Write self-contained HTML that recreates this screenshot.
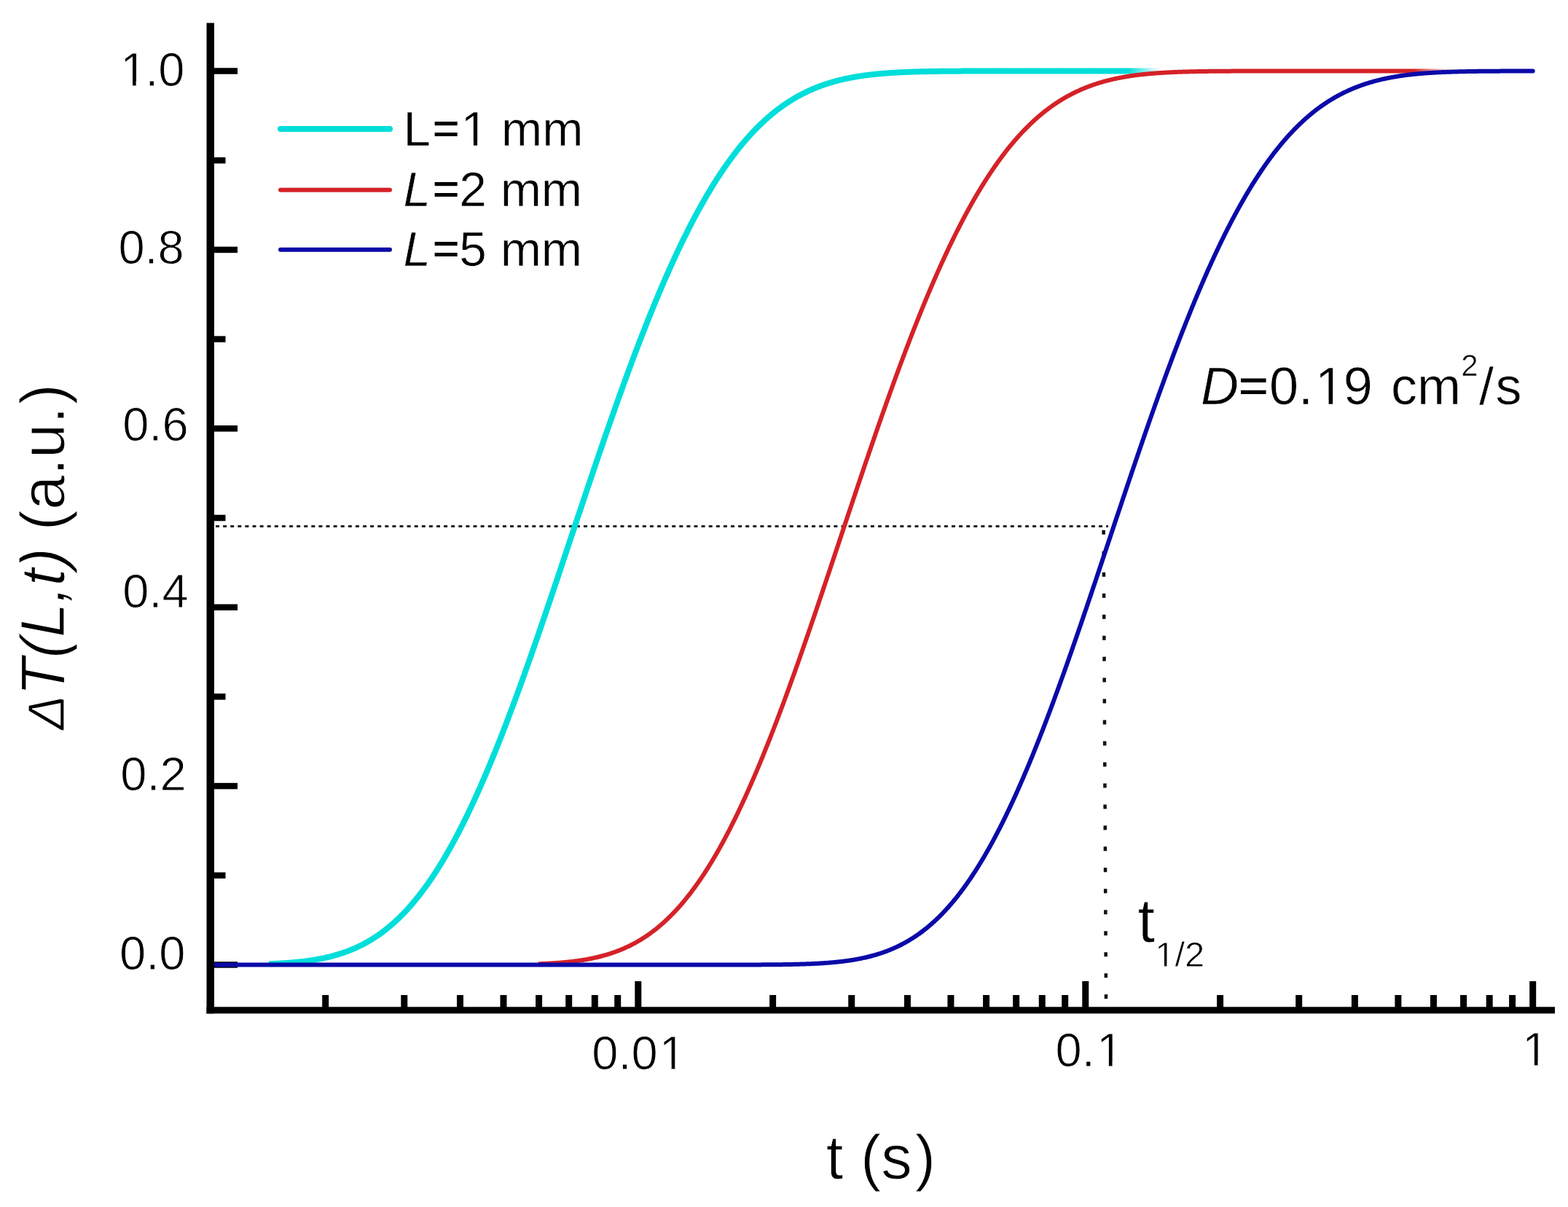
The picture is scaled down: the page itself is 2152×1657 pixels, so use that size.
<!DOCTYPE html>
<html><head><meta charset="utf-8"><style>
html,body{margin:0;padding:0;background:#fff;width:2152px;height:1657px;overflow:hidden}
svg{display:block}
text{font-family:"Liberation Sans",Arial,sans-serif;fill:#000}
</style></head><body>
<svg width="2152" height="1657" viewBox="0 0 2152 1657">
<rect width="2152" height="1657" fill="#fff"/>
<defs><clipPath id="c0" clipPathUnits="userSpaceOnUse"><path clip-rule="evenodd" d="M0,0H2152V1657H0ZM167.99,111.66H182.03V121.70H167.99ZM186.67,111.66H200.37V121.70H186.67Z"/></clipPath><clipPath id="c6" clipPathUnits="userSpaceOnUse"><path clip-rule="evenodd" d="M0,0H2152V1657H0ZM907.65,1461.66H921.69V1471.70H907.65ZM926.33,1461.66H940.03V1471.70H926.33Z"/></clipPath><clipPath id="c7" clipPathUnits="userSpaceOnUse"><path clip-rule="evenodd" d="M0,0H2152V1657H0ZM1507.81,1458.16H1521.85V1468.20H1507.81ZM1526.49,1458.16H1540.18V1468.20H1526.49Z"/></clipPath><clipPath id="c8" clipPathUnits="userSpaceOnUse"><path clip-rule="evenodd" d="M0,0H2152V1657H0ZM2091.86,1456.96H2105.90V1467.00H2091.86ZM2110.54,1456.96H2124.24V1467.00H2110.54Z"/></clipPath><clipPath id="c9" clipPathUnits="userSpaceOnUse"><path clip-rule="evenodd" d="M0,0H2152V1657H0ZM635.51,193.86H649.92V203.80H635.51ZM655.09,193.86H669.14V203.80H655.09Z"/></clipPath><clipPath id="c12" clipPathUnits="userSpaceOnUse"><path clip-rule="evenodd" d="M0,0H2152V1657H0ZM1808.25,548.40H1823.59V558.70H1808.25ZM1829.16,548.40H1844.11V558.70H1829.16Z"/></clipPath><clipPath id="c13" clipPathUnits="userSpaceOnUse"><path clip-rule="evenodd" d="M0,0H2152V1657H0ZM1587.28,1322.62H1597.95V1331.30H1587.28ZM1601.29,1322.62H1611.70V1331.30H1601.29Z"/></clipPath></defs>
<defs><linearGradient id="g0" gradientUnits="userSpaceOnUse" x1="1548" y1="0" x2="1592" y2="0"><stop offset="0" stop-color="#00DEDA"/><stop offset="1" stop-color="#00DEDA" stop-opacity="0"/></linearGradient><linearGradient id="g1" gradientUnits="userSpaceOnUse" x1="1940" y1="0" x2="1992" y2="0"><stop offset="0" stop-color="#D42228"/><stop offset="1" stop-color="#D42228" stop-opacity="0"/></linearGradient></defs>
<rect x="294.0" y="1320.25" width="32.00" height="8.5" fill="#000"/>
<rect x="294.0" y="1074.85" width="32.00" height="8.5" fill="#000"/>
<rect x="294.0" y="829.45" width="32.00" height="8.5" fill="#000"/>
<rect x="294.0" y="584.05" width="32.00" height="8.5" fill="#000"/>
<rect x="294.0" y="338.65" width="32.00" height="8.5" fill="#000"/>
<rect x="294.0" y="93.25" width="32.00" height="8.5" fill="#000"/>
<rect x="294.0" y="1197.55" width="15.50" height="8.5" fill="#000"/>
<rect x="294.0" y="952.15" width="15.50" height="8.5" fill="#000"/>
<rect x="294.0" y="706.75" width="15.50" height="8.5" fill="#000"/>
<rect x="294.0" y="461.35" width="15.50" height="8.5" fill="#000"/>
<rect x="294.0" y="215.95" width="15.50" height="8.5" fill="#000"/>
<rect x="871.30" y="1347.0" width="9.0" height="36.30" fill="#000"/>
<rect x="1485.25" y="1347.0" width="9.0" height="36.30" fill="#000"/>
<rect x="2099.20" y="1347.0" width="9.0" height="36.30" fill="#000"/>
<rect x="442.17" y="1366.0" width="9.0" height="17.30" fill="#000"/>
<rect x="550.28" y="1366.0" width="9.0" height="17.30" fill="#000"/>
<rect x="626.98" y="1366.0" width="9.0" height="17.30" fill="#000"/>
<rect x="686.48" y="1366.0" width="9.0" height="17.30" fill="#000"/>
<rect x="735.10" y="1366.0" width="9.0" height="17.30" fill="#000"/>
<rect x="776.20" y="1366.0" width="9.0" height="17.30" fill="#000"/>
<rect x="811.80" y="1366.0" width="9.0" height="17.30" fill="#000"/>
<rect x="843.21" y="1366.0" width="9.0" height="17.30" fill="#000"/>
<rect x="1056.12" y="1366.0" width="9.0" height="17.30" fill="#000"/>
<rect x="1164.23" y="1366.0" width="9.0" height="17.30" fill="#000"/>
<rect x="1240.93" y="1366.0" width="9.0" height="17.30" fill="#000"/>
<rect x="1300.43" y="1366.0" width="9.0" height="17.30" fill="#000"/>
<rect x="1349.05" y="1366.0" width="9.0" height="17.30" fill="#000"/>
<rect x="1390.15" y="1366.0" width="9.0" height="17.30" fill="#000"/>
<rect x="1425.75" y="1366.0" width="9.0" height="17.30" fill="#000"/>
<rect x="1457.16" y="1366.0" width="9.0" height="17.30" fill="#000"/>
<rect x="1670.07" y="1366.0" width="9.0" height="17.30" fill="#000"/>
<rect x="1778.18" y="1366.0" width="9.0" height="17.30" fill="#000"/>
<rect x="1854.88" y="1366.0" width="9.0" height="17.30" fill="#000"/>
<rect x="1914.38" y="1366.0" width="9.0" height="17.30" fill="#000"/>
<rect x="1963.00" y="1366.0" width="9.0" height="17.30" fill="#000"/>
<rect x="2004.10" y="1366.0" width="9.0" height="17.30" fill="#000"/>
<rect x="2039.70" y="1366.0" width="9.0" height="17.30" fill="#000"/>
<rect x="2071.11" y="1366.0" width="9.0" height="17.30" fill="#000"/>
<line x1="296" y1="722.4" x2="1521" y2="722.4" stroke="#222" stroke-width="3" stroke-dasharray="5 5.1"/>
<line x1="1514.6" y1="727.8" x2="1518" y2="1380" stroke="#111" stroke-width="4.5" stroke-dasharray="6 22.97"/>
<polyline points="369.0,1323.29 370.0,1323.25 371.0,1323.21 372.0,1323.17 373.0,1323.13 374.0,1323.09 375.0,1323.04 376.0,1323.00 377.0,1322.95 378.0,1322.91 379.0,1322.86 380.0,1322.81 381.0,1322.76 382.0,1322.70 383.0,1322.65 384.0,1322.59 385.0,1322.54 386.0,1322.48 387.0,1322.42 388.0,1322.36 389.0,1322.30 390.0,1322.23 391.0,1322.17 392.0,1322.10 393.0,1322.03 394.0,1321.96 395.0,1321.89 396.0,1321.81 397.0,1321.73 398.0,1321.66 399.0,1321.58 400.0,1321.49 401.0,1321.41 402.0,1321.32 403.0,1321.24 404.0,1321.15 405.0,1321.05 406.0,1320.96 407.0,1320.86 408.0,1320.76 409.0,1320.66 410.0,1320.56 411.0,1320.46 412.0,1320.35 413.0,1320.24 414.0,1320.12 415.0,1320.01 416.0,1319.89 417.0,1319.77 418.0,1319.65 419.0,1319.52 420.0,1319.39 421.0,1319.26 422.0,1319.13 423.0,1318.99 424.0,1318.85 425.0,1318.71 426.0,1318.56 427.0,1318.41 428.0,1318.26 429.0,1318.10 430.0,1317.94 431.0,1317.78 432.0,1317.62 433.0,1317.45 434.0,1317.28 435.0,1317.10 436.0,1316.92 437.0,1316.74 438.0,1316.55 439.0,1316.36 440.0,1316.17 441.0,1315.97 442.0,1315.77 443.0,1315.56 444.0,1315.36 445.0,1315.14 446.0,1314.92 447.0,1314.70 448.0,1314.48 449.0,1314.25 450.0,1314.01 451.0,1313.77 452.0,1313.53 453.0,1313.28 454.0,1313.03 455.0,1312.77 456.0,1312.51 457.0,1312.25 458.0,1311.98 459.0,1311.70 460.0,1311.42 461.0,1311.13 462.0,1310.84 463.0,1310.55 464.0,1310.25 465.0,1309.94 466.0,1309.63 467.0,1309.31 468.0,1308.99 469.0,1308.66 470.0,1308.33 471.0,1307.99 472.0,1307.64 473.0,1307.29 474.0,1306.94 475.0,1306.58 476.0,1306.21 477.0,1305.83 478.0,1305.45 479.0,1305.07 480.0,1304.67 481.0,1304.28 482.0,1303.87 483.0,1303.46 484.0,1303.04 485.0,1302.62 486.0,1302.19 487.0,1301.75 488.0,1301.30 489.0,1300.85 490.0,1300.39 491.0,1299.93 492.0,1299.46 493.0,1298.98 494.0,1298.49 495.0,1298.00 496.0,1297.50 497.0,1296.99 498.0,1296.47 499.0,1295.95 500.0,1295.42 501.0,1294.88 502.0,1294.34 503.0,1293.78 504.0,1293.22 505.0,1292.65 506.0,1292.07 507.0,1291.49 508.0,1290.90 509.0,1290.29 510.0,1289.69 511.0,1289.07 512.0,1288.44 513.0,1287.81 514.0,1287.16 515.0,1286.51 516.0,1285.85 517.0,1285.18 518.0,1284.50 519.0,1283.82 520.0,1283.12 521.0,1282.42 522.0,1281.71 523.0,1280.98 524.0,1280.25 525.0,1279.51 526.0,1278.76 527.0,1278.00 528.0,1277.23 529.0,1276.46 530.0,1275.67 531.0,1274.87 532.0,1274.07 533.0,1273.25 534.0,1272.42 535.0,1271.59 536.0,1270.74 537.0,1269.89 538.0,1269.02 539.0,1268.15 540.0,1267.26 541.0,1266.37 542.0,1265.46 543.0,1264.55 544.0,1263.62 545.0,1262.68 546.0,1261.74 547.0,1260.78 548.0,1259.81 549.0,1258.83 550.0,1257.85 551.0,1256.85 552.0,1255.84 553.0,1254.82 554.0,1253.78 555.0,1252.74 556.0,1251.69 557.0,1250.63 558.0,1249.55 559.0,1248.46 560.0,1247.37 561.0,1246.26 562.0,1245.14 563.0,1244.01 564.0,1242.87 565.0,1241.72 566.0,1240.55 567.0,1239.38 568.0,1238.19 569.0,1236.99 570.0,1235.78 571.0,1234.56 572.0,1233.33 573.0,1232.08 574.0,1230.83 575.0,1229.56 576.0,1228.28 577.0,1226.99 578.0,1225.69 579.0,1224.37 580.0,1223.05 581.0,1221.71 582.0,1220.36 583.0,1219.00 584.0,1217.63 585.0,1216.24 586.0,1214.85 587.0,1213.44 588.0,1212.02 589.0,1210.58 590.0,1209.14 591.0,1207.68 592.0,1206.21 593.0,1204.73 594.0,1203.24 595.0,1201.74 596.0,1200.22 597.0,1198.69 598.0,1197.15 599.0,1195.60 600.0,1194.03 601.0,1192.46 602.0,1190.87 603.0,1189.27 604.0,1187.65 605.0,1186.03 606.0,1184.39 607.0,1182.74 608.0,1181.08 609.0,1179.40 610.0,1177.72 611.0,1176.02 612.0,1174.31 613.0,1172.58 614.0,1170.85 615.0,1169.10 616.0,1167.34 617.0,1165.57 618.0,1163.79 619.0,1161.99 620.0,1160.19 621.0,1158.37 622.0,1156.54 623.0,1154.69 624.0,1152.84 625.0,1150.97 626.0,1149.09 627.0,1147.20 628.0,1145.30 629.0,1143.38 630.0,1141.45 631.0,1139.51 632.0,1137.56 633.0,1135.60 634.0,1133.63 635.0,1131.64 636.0,1129.64 637.0,1127.63 638.0,1125.61 639.0,1123.58 640.0,1121.53 641.0,1119.48 642.0,1117.41 643.0,1115.33 644.0,1113.24 645.0,1111.13 646.0,1109.02 647.0,1106.90 648.0,1104.76 649.0,1102.61 650.0,1100.45 651.0,1098.28 652.0,1096.10 653.0,1093.91 654.0,1091.70 655.0,1089.49 656.0,1087.26 657.0,1085.03 658.0,1082.78 659.0,1080.52 660.0,1078.25 661.0,1075.97 662.0,1073.68 663.0,1071.38 664.0,1069.07 665.0,1066.74 666.0,1064.41 667.0,1062.07 668.0,1059.71 669.0,1057.35 670.0,1054.98 671.0,1052.59 672.0,1050.20 673.0,1047.79 674.0,1045.38 675.0,1042.95 676.0,1040.52 677.0,1038.07 678.0,1035.62 679.0,1033.16 680.0,1030.68 681.0,1028.20 682.0,1025.71 683.0,1023.20 684.0,1020.69 685.0,1018.17 686.0,1015.64 687.0,1013.10 688.0,1010.56 689.0,1008.00 690.0,1005.43 691.0,1002.86 692.0,1000.28 693.0,997.69 694.0,995.09 695.0,992.48 696.0,989.86 697.0,987.23 698.0,984.60 699.0,981.96 700.0,979.31 701.0,976.65 702.0,973.98 703.0,971.31 704.0,968.63 705.0,965.94 706.0,963.24 707.0,960.53 708.0,957.82 709.0,955.10 710.0,952.38 711.0,949.64 712.0,946.90 713.0,944.15 714.0,941.40 715.0,938.64 716.0,935.87 717.0,933.09 718.0,930.31 719.0,927.52 720.0,924.73 721.0,921.93 722.0,919.12 723.0,916.31 724.0,913.49 725.0,910.66 726.0,907.83 727.0,905.00 728.0,902.15 729.0,899.31 730.0,896.45 731.0,893.60 732.0,890.73 733.0,887.86 734.0,884.99 735.0,882.11 736.0,879.23 737.0,876.34 738.0,873.45 739.0,870.55 740.0,867.65 741.0,864.74 742.0,861.83 743.0,858.91 744.0,856.00 745.0,853.07 746.0,850.15 747.0,847.22 748.0,844.28 749.0,841.34 750.0,838.40 751.0,835.46 752.0,832.51 753.0,829.56 754.0,826.61 755.0,823.65 756.0,820.69 757.0,817.73 758.0,814.76 759.0,811.79 760.0,808.82 761.0,805.85 762.0,802.88 763.0,799.90 764.0,796.92 765.0,793.94 766.0,790.96 767.0,787.97 768.0,784.99 769.0,782.00 770.0,779.01 771.0,776.02 772.0,773.03 773.0,770.03 774.0,767.04 775.0,764.05 776.0,761.05 777.0,758.05 778.0,755.06 779.0,752.06 780.0,749.06 781.0,746.06 782.0,743.06 783.0,740.07 784.0,737.07 785.0,734.07 786.0,731.07 787.0,728.07 788.0,725.07 789.0,722.08 790.0,719.08 791.0,716.08 792.0,713.09 793.0,710.09 794.0,707.10 795.0,704.11 796.0,701.12 797.0,698.13 798.0,695.14 799.0,692.15 800.0,689.17 801.0,686.18 802.0,683.20 803.0,680.22 804.0,677.24 805.0,674.26 806.0,671.29 807.0,668.32 808.0,665.35 809.0,662.38 810.0,659.41 811.0,656.45 812.0,653.49 813.0,650.54 814.0,647.58 815.0,644.63 816.0,641.68 817.0,638.74 818.0,635.80 819.0,632.86 820.0,629.92 821.0,626.99 822.0,624.06 823.0,621.14 824.0,618.22 825.0,615.30 826.0,612.39 827.0,609.48 828.0,606.57 829.0,603.67 830.0,600.78 831.0,597.89 832.0,595.00 833.0,592.12 834.0,589.24 835.0,586.36 836.0,583.50 837.0,580.63 838.0,577.77 839.0,574.92 840.0,572.07 841.0,569.23 842.0,566.39 843.0,563.56 844.0,560.73 845.0,557.91 846.0,555.09 847.0,552.28 848.0,549.47 849.0,546.67 850.0,543.88 851.0,541.09 852.0,538.31 853.0,535.54 854.0,532.77 855.0,530.01 856.0,527.25 857.0,524.50 858.0,521.76 859.0,519.02 860.0,516.29 861.0,513.56 862.0,510.85 863.0,508.14 864.0,505.43 865.0,502.74 866.0,500.05 867.0,497.37 868.0,494.69 869.0,492.02 870.0,489.36 871.0,486.71 872.0,484.07 873.0,481.43 874.0,478.80 875.0,476.17 876.0,473.56 877.0,470.95 878.0,468.35 879.0,465.76 880.0,463.18 881.0,460.60 882.0,458.03 883.0,455.47 884.0,452.92 885.0,450.38 886.0,447.84 887.0,445.31 888.0,442.79 889.0,440.28 890.0,437.78 891.0,435.29 892.0,432.80 893.0,430.33 894.0,427.86 895.0,425.40 896.0,422.95 897.0,420.51 898.0,418.08 899.0,415.65 900.0,413.24 901.0,410.83 902.0,408.44 903.0,406.05 904.0,403.67 905.0,401.30 906.0,398.94 907.0,396.59 908.0,394.25 909.0,391.92 910.0,389.60 911.0,387.28 912.0,384.98 913.0,382.69 914.0,380.40 915.0,378.13 916.0,375.86 917.0,373.60 918.0,371.36 919.0,369.12 920.0,366.89 921.0,364.68 922.0,362.47 923.0,360.27 924.0,358.09 925.0,355.91 926.0,353.74 927.0,351.58 928.0,349.43 929.0,347.30 930.0,345.17 931.0,343.05 932.0,340.94 933.0,338.85 934.0,336.76 935.0,334.68 936.0,332.61 937.0,330.56 938.0,328.51 939.0,326.48 940.0,324.45 941.0,322.43 942.0,320.43 943.0,318.43 944.0,316.45 945.0,314.47 946.0,312.51 947.0,310.56 948.0,308.61 949.0,306.68 950.0,304.76 951.0,302.85 952.0,300.94 953.0,299.05 954.0,297.17 955.0,295.30 956.0,293.44 957.0,291.59 958.0,289.76 959.0,287.93 960.0,286.11 961.0,284.30 962.0,282.51 963.0,280.72 964.0,278.95 965.0,277.18 966.0,275.43 967.0,273.68 968.0,271.95 969.0,270.23 970.0,268.52 971.0,266.82 972.0,265.12 973.0,263.44 974.0,261.77 975.0,260.12 976.0,258.47 977.0,256.83 978.0,255.20 979.0,253.59 980.0,251.98 981.0,250.38 982.0,248.80 983.0,247.22 984.0,245.66 985.0,244.11 986.0,242.56 987.0,241.03 988.0,239.51 989.0,238.00 990.0,236.50 991.0,235.01 992.0,233.53 993.0,232.06 994.0,230.60 995.0,229.15 996.0,227.71 997.0,226.28 998.0,224.86 999.0,223.46 1000.0,222.06 1001.0,220.67 1002.0,219.30 1003.0,217.93 1004.0,216.58 1005.0,215.23 1006.0,213.89 1007.0,212.57 1008.0,211.25 1009.0,209.95 1010.0,208.65 1011.0,207.37 1012.0,206.10 1013.0,204.83 1014.0,203.58 1015.0,202.33 1016.0,201.10 1017.0,199.87 1018.0,198.66 1019.0,197.45 1020.0,196.26 1021.0,195.08 1022.0,193.90 1023.0,192.73 1024.0,191.58 1025.0,190.43 1026.0,189.30 1027.0,188.17 1028.0,187.06 1029.0,185.95 1030.0,184.85 1031.0,183.76 1032.0,182.68 1033.0,181.62 1034.0,180.56 1035.0,179.51 1036.0,178.47 1037.0,177.44 1038.0,176.41 1039.0,175.40 1040.0,174.40 1041.0,173.40 1042.0,172.42 1043.0,171.44 1044.0,170.48 1045.0,169.52 1046.0,168.57 1047.0,167.63 1048.0,166.70 1049.0,165.78 1050.0,164.87 1051.0,163.96 1052.0,163.07 1053.0,162.18 1054.0,161.30 1055.0,160.43 1056.0,159.57 1057.0,158.72 1058.0,157.88 1059.0,157.04 1060.0,156.22 1061.0,155.40 1062.0,154.59 1063.0,153.79 1064.0,153.00 1065.0,152.21 1066.0,151.44 1067.0,150.67 1068.0,149.91 1069.0,149.16 1070.0,148.41 1071.0,147.68 1072.0,146.95 1073.0,146.23 1074.0,145.52 1075.0,144.81 1076.0,144.11 1077.0,143.43 1078.0,142.74 1079.0,142.07 1080.0,141.40 1081.0,140.75 1082.0,140.09 1083.0,139.45 1084.0,138.81 1085.0,138.18 1086.0,137.56 1087.0,136.95 1088.0,136.34 1089.0,135.74 1090.0,135.15 1091.0,134.56 1092.0,133.98 1093.0,133.41 1094.0,132.84 1095.0,132.28 1096.0,131.73 1097.0,131.19 1098.0,130.65 1099.0,130.12 1100.0,129.59 1101.0,129.07 1102.0,128.56 1103.0,128.06 1104.0,127.56 1105.0,127.06 1106.0,126.58 1107.0,126.10 1108.0,125.62 1109.0,125.15 1110.0,124.69 1111.0,124.23 1112.0,123.78 1113.0,123.34 1114.0,122.90 1115.0,122.47 1116.0,122.04 1117.0,121.62 1118.0,121.21 1119.0,120.80 1120.0,120.39 1121.0,119.99 1122.0,119.60 1123.0,119.21 1124.0,118.83 1125.0,118.45 1126.0,118.08 1127.0,117.72 1128.0,117.35 1129.0,117.00 1130.0,116.65 1131.0,116.30 1132.0,115.96 1133.0,115.62 1134.0,115.29 1135.0,114.97 1136.0,114.64 1137.0,114.33 1138.0,114.02 1139.0,113.71 1140.0,113.41 1141.0,113.11 1142.0,112.81 1143.0,112.52 1144.0,112.24 1145.0,111.96 1146.0,111.68 1147.0,111.41 1148.0,111.14 1149.0,110.88 1150.0,110.62 1151.0,110.36 1152.0,110.11 1153.0,109.87 1154.0,109.62 1155.0,109.38 1156.0,109.15 1157.0,108.92 1158.0,108.69 1159.0,108.46 1160.0,108.24 1161.0,108.03 1162.0,107.81 1163.0,107.60 1164.0,107.40 1165.0,107.19 1166.0,106.99 1167.0,106.80 1168.0,106.60 1169.0,106.41 1170.0,106.23 1171.0,106.05 1172.0,105.87 1173.0,105.69 1174.0,105.52 1175.0,105.34 1176.0,105.18 1177.0,105.01 1178.0,104.85 1179.0,104.69 1180.0,104.54 1181.0,104.38 1182.0,104.23 1183.0,104.09 1184.0,103.94 1185.0,103.80 1186.0,103.66 1187.0,103.52 1188.0,103.39 1189.0,103.26 1190.0,103.13 1191.0,103.00 1192.0,102.87 1193.0,102.75 1194.0,102.63 1195.0,102.51 1196.0,102.40 1197.0,102.29 1198.0,102.18 1199.0,102.07 1200.0,101.96 1201.0,101.86 1202.0,101.75 1203.0,101.65 1204.0,101.55 1205.0,101.46 1206.0,101.36 1207.0,101.27 1208.0,101.18 1209.0,101.09 1210.0,101.00 1211.0,100.92 1212.0,100.84 1213.0,100.75 1214.0,100.67 1215.0,100.60 1216.0,100.52 1217.0,100.44 1218.0,100.37 1219.0,100.30 1220.0,100.23 1221.0,100.16 1222.0,100.09 1223.0,100.03 1224.0,99.96 1225.0,99.90 1226.0,99.84 1227.0,99.78 1228.0,99.72 1229.0,99.66 1230.0,99.60 1231.0,99.55 1232.0,99.49 1233.0,99.44 1234.0,99.39 1235.0,99.34 1236.0,99.29 1237.0,99.24 1238.0,99.20 1239.0,99.15 1240.0,99.11 1241.0,99.06 1242.0,99.02 1243.0,98.98 1244.0,98.94 1245.0,98.90 1246.0,98.86 1247.0,98.82 1248.0,98.78 1249.0,98.75 1250.0,98.71 1251.0,98.68 1252.0,98.65 1253.0,98.61 1254.0,98.58 1255.0,98.55 1256.0,98.52 1257.0,98.49 1258.0,98.46 1259.0,98.43 1260.0,98.41 1261.0,98.38 1262.0,98.35 1263.0,98.33 1264.0,98.31 1265.0,98.28 1266.0,98.26 1267.0,98.24 1268.0,98.21 1269.0,98.19 1270.0,98.17 1271.0,98.15 1272.0,98.13 1273.0,98.11 1274.0,98.09 1275.0,98.07 1276.0,98.06 1277.0,98.04 1278.0,98.02 1279.0,98.01 1280.0,97.99 1281.0,97.97 1282.0,97.96 1283.0,97.95 1284.0,97.93 1285.0,97.92 1286.0,97.90 1287.0,97.89 1288.0,97.88 1289.0,97.87 1290.0,97.85 1291.0,97.84 1292.0,97.83 1293.0,97.82 1294.0,97.81 1295.0,97.80 1296.0,97.79 1297.0,97.78 1298.0,97.77 1299.0,97.76 1300.0,97.75 1301.0,97.74 1302.0,97.74 1303.0,97.73 1304.0,97.72 1305.0,97.71 1306.0,97.70 1307.0,97.70 1308.0,97.69 1309.0,97.68 1310.0,97.68 1311.0,97.67 1312.0,97.67 1313.0,97.66 1314.0,97.65 1315.0,97.65 1316.0,97.64 1317.0,97.64 1318.0,97.63 1319.0,97.63 1320.0,97.62 1321.0,97.62 1322.0,97.61 1323.0,97.61 1324.0,97.61 1325.0,97.60 1326.0,97.60 1327.0,97.59 1328.0,97.59 1329.0,97.59 1330.0,97.58 1331.0,97.58 1332.0,97.58 1333.0,97.58 1334.0,97.57 1335.0,97.57 1336.0,97.57 1337.0,97.56 1338.0,97.56 1339.0,97.56 1340.0,97.56 1341.0,97.55 1342.0,97.55 1343.0,97.55 1344.0,97.55 1345.0,97.55 1346.0,97.54 1347.0,97.54 1348.0,97.54 1349.0,97.54 1350.0,97.54 1351.0,97.54 1352.0,97.53 1353.0,97.53 1354.0,97.53 1355.0,97.53 1356.0,97.53 1357.0,97.53 1358.0,97.53 1359.0,97.53 1360.0,97.52 1361.0,97.52 1362.0,97.52 1363.0,97.52 1364.0,97.52 1365.0,97.52 1366.0,97.52 1367.0,97.52 1368.0,97.52 1369.0,97.52 1370.0,97.52 1371.0,97.52 1372.0,97.51 1373.0,97.51 1374.0,97.51 1375.0,97.51 1376.0,97.51 1377.0,97.51 1378.0,97.51 1379.0,97.51 1380.0,97.51 1381.0,97.51 1382.0,97.51 1383.0,97.51 1384.0,97.51 1385.0,97.51 1386.0,97.51 1387.0,97.51 1388.0,97.51 1389.0,97.51 1390.0,97.51 1391.0,97.51 1392.0,97.51 1393.0,97.51 1394.0,97.51 1395.0,97.50 1396.0,97.50 1397.0,97.50 1398.0,97.50 1399.0,97.50 1400.0,97.50 1401.0,97.50 1402.0,97.50 1403.0,97.50 1404.0,97.50 1405.0,97.50 1406.0,97.50 1407.0,97.50 1408.0,97.50 1409.0,97.50 1410.0,97.50 1411.0,97.50 1412.0,97.50 1413.0,97.50 1414.0,97.50 1415.0,97.50 1416.0,97.50 1417.0,97.50 1418.0,97.50 1419.0,97.50 1420.0,97.50 1421.0,97.50 1422.0,97.50 1423.0,97.50 1424.0,97.50 1425.0,97.50 1426.0,97.50 1427.0,97.50 1428.0,97.50 1429.0,97.50 1430.0,97.50 1431.0,97.50 1432.0,97.50 1433.0,97.50 1434.0,97.50 1435.0,97.50 1436.0,97.50 1437.0,97.50 1438.0,97.50 1439.0,97.50 1440.0,97.50 1441.0,97.50 1442.0,97.50 1443.0,97.50 1444.0,97.50 1445.0,97.50 1446.0,97.50 1447.0,97.50 1448.0,97.50 1449.0,97.50 1450.0,97.50 1451.0,97.50 1452.0,97.50 1453.0,97.50 1454.0,97.50 1455.0,97.50 1456.0,97.50 1457.0,97.50 1458.0,97.50 1459.0,97.50 1460.0,97.50 1461.0,97.50 1462.0,97.50 1463.0,97.50 1464.0,97.50 1465.0,97.50 1466.0,97.50 1467.0,97.50 1468.0,97.50 1469.0,97.50 1470.0,97.50 1471.0,97.50 1472.0,97.50 1473.0,97.50 1474.0,97.50 1475.0,97.50 1476.0,97.50 1477.0,97.50 1478.0,97.50 1479.0,97.50 1480.0,97.50 1481.0,97.50 1482.0,97.50 1483.0,97.50 1484.0,97.50 1485.0,97.50 1486.0,97.50 1487.0,97.50 1488.0,97.50 1489.0,97.50 1490.0,97.50 1491.0,97.50 1492.0,97.50 1493.0,97.50 1494.0,97.50 1495.0,97.50 1496.0,97.50 1497.0,97.50 1498.0,97.50 1499.0,97.50 1500.0,97.50 1501.0,97.50 1502.0,97.50 1503.0,97.50 1504.0,97.50 1505.0,97.50 1506.0,97.50 1507.0,97.50 1508.0,97.50 1509.0,97.50 1510.0,97.50 1511.0,97.50 1512.0,97.50 1513.0,97.50 1514.0,97.50 1515.0,97.50 1516.0,97.50 1517.0,97.50 1518.0,97.50 1519.0,97.50 1520.0,97.50 1521.0,97.50 1522.0,97.50 1523.0,97.50 1524.0,97.50 1525.0,97.50 1526.0,97.50 1527.0,97.50 1528.0,97.50 1529.0,97.50 1530.0,97.50 1531.0,97.50 1532.0,97.50 1533.0,97.50 1534.0,97.50 1535.0,97.50 1536.0,97.50 1537.0,97.50 1538.0,97.50 1539.0,97.50 1540.0,97.50 1541.0,97.50 1542.0,97.50 1543.0,97.50 1544.0,97.50 1545.0,97.50 1546.0,97.50 1547.0,97.50 1548.0,97.50 1549.0,97.50 1550.0,97.50 1551.0,97.50 1552.0,97.50 1553.0,97.50 1554.0,97.50 1555.0,97.50 1556.0,97.50 1557.0,97.50 1558.0,97.50 1559.0,97.50 1560.0,97.50 1561.0,97.50 1562.0,97.50 1563.0,97.50 1564.0,97.50 1565.0,97.50 1566.0,97.50 1567.0,97.50 1568.0,97.50 1569.0,97.50 1570.0,97.50 1571.0,97.50 1572.0,97.50 1573.0,97.50 1574.0,97.50 1575.0,97.50 1576.0,97.50 1577.0,97.50 1578.0,97.50 1579.0,97.50 1580.0,97.50 1581.0,97.50 1582.0,97.50 1583.0,97.50 1584.0,97.50 1585.0,97.50 1586.0,97.50 1587.0,97.50 1588.0,97.50 1589.0,97.50 1590.0,97.50 1591.0,97.50 1592.0,97.50" fill="none" stroke="url(#g0)" stroke-width="8" stroke-linejoin="round" stroke-linecap="butt"/>
<polyline points="739.0,1323.29 740.0,1323.25 741.0,1323.21 742.0,1323.17 743.0,1323.13 744.0,1323.08 745.0,1323.04 746.0,1323.00 747.0,1322.95 748.0,1322.90 749.0,1322.85 750.0,1322.80 751.0,1322.75 752.0,1322.70 753.0,1322.64 754.0,1322.59 755.0,1322.53 756.0,1322.47 757.0,1322.41 758.0,1322.35 759.0,1322.29 760.0,1322.23 761.0,1322.16 762.0,1322.09 763.0,1322.02 764.0,1321.95 765.0,1321.88 766.0,1321.80 767.0,1321.73 768.0,1321.65 769.0,1321.57 770.0,1321.49 771.0,1321.40 772.0,1321.32 773.0,1321.23 774.0,1321.14 775.0,1321.05 776.0,1320.95 777.0,1320.85 778.0,1320.76 779.0,1320.65 780.0,1320.55 781.0,1320.44 782.0,1320.34 783.0,1320.23 784.0,1320.11 785.0,1320.00 786.0,1319.88 787.0,1319.76 788.0,1319.63 789.0,1319.51 790.0,1319.38 791.0,1319.25 792.0,1319.11 793.0,1318.98 794.0,1318.84 795.0,1318.69 796.0,1318.55 797.0,1318.40 798.0,1318.24 799.0,1318.09 800.0,1317.93 801.0,1317.77 802.0,1317.60 803.0,1317.43 804.0,1317.26 805.0,1317.08 806.0,1316.90 807.0,1316.72 808.0,1316.53 809.0,1316.34 810.0,1316.15 811.0,1315.95 812.0,1315.75 813.0,1315.54 814.0,1315.34 815.0,1315.12 816.0,1314.90 817.0,1314.68 818.0,1314.46 819.0,1314.23 820.0,1313.99 821.0,1313.75 822.0,1313.51 823.0,1313.26 824.0,1313.01 825.0,1312.75 826.0,1312.49 827.0,1312.22 828.0,1311.95 829.0,1311.67 830.0,1311.39 831.0,1311.11 832.0,1310.81 833.0,1310.52 834.0,1310.22 835.0,1309.91 836.0,1309.60 837.0,1309.28 838.0,1308.96 839.0,1308.63 840.0,1308.30 841.0,1307.96 842.0,1307.61 843.0,1307.26 844.0,1306.90 845.0,1306.54 846.0,1306.17 847.0,1305.80 848.0,1305.42 849.0,1305.03 850.0,1304.64 851.0,1304.24 852.0,1303.83 853.0,1303.42 854.0,1303.00 855.0,1302.58 856.0,1302.14 857.0,1301.71 858.0,1301.26 859.0,1300.81 860.0,1300.35 861.0,1299.88 862.0,1299.41 863.0,1298.93 864.0,1298.45 865.0,1297.95 866.0,1297.45 867.0,1296.94 868.0,1296.42 869.0,1295.90 870.0,1295.37 871.0,1294.83 872.0,1294.28 873.0,1293.73 874.0,1293.17 875.0,1292.60 876.0,1292.02 877.0,1291.43 878.0,1290.84 879.0,1290.24 880.0,1289.63 881.0,1289.01 882.0,1288.38 883.0,1287.75 884.0,1287.10 885.0,1286.45 886.0,1285.79 887.0,1285.12 888.0,1284.44 889.0,1283.75 890.0,1283.06 891.0,1282.35 892.0,1281.64 893.0,1280.91 894.0,1280.18 895.0,1279.44 896.0,1278.69 897.0,1277.93 898.0,1277.16 899.0,1276.38 900.0,1275.59 901.0,1274.80 902.0,1273.99 903.0,1273.17 904.0,1272.35 905.0,1271.51 906.0,1270.66 907.0,1269.81 908.0,1268.94 909.0,1268.06 910.0,1267.18 911.0,1266.28 912.0,1265.38 913.0,1264.46 914.0,1263.53 915.0,1262.59 916.0,1261.65 917.0,1260.69 918.0,1259.72 919.0,1258.74 920.0,1257.75 921.0,1256.75 922.0,1255.74 923.0,1254.72 924.0,1253.69 925.0,1252.64 926.0,1251.59 927.0,1250.52 928.0,1249.45 929.0,1248.36 930.0,1247.26 931.0,1246.15 932.0,1245.03 933.0,1243.90 934.0,1242.76 935.0,1241.60 936.0,1240.44 937.0,1239.26 938.0,1238.08 939.0,1236.88 940.0,1235.67 941.0,1234.44 942.0,1233.21 943.0,1231.96 944.0,1230.71 945.0,1229.44 946.0,1228.16 947.0,1226.87 948.0,1225.56 949.0,1224.25 950.0,1222.92 951.0,1221.58 952.0,1220.23 953.0,1218.87 954.0,1217.50 955.0,1216.11 956.0,1214.71 957.0,1213.30 958.0,1211.88 959.0,1210.45 960.0,1209.00 961.0,1207.54 962.0,1206.07 963.0,1204.59 964.0,1203.10 965.0,1201.59 966.0,1200.08 967.0,1198.55 968.0,1197.00 969.0,1195.45 970.0,1193.88 971.0,1192.31 972.0,1190.71 973.0,1189.11 974.0,1187.50 975.0,1185.87 976.0,1184.23 977.0,1182.58 978.0,1180.92 979.0,1179.24 980.0,1177.56 981.0,1175.86 982.0,1174.14 983.0,1172.42 984.0,1170.68 985.0,1168.94 986.0,1167.18 987.0,1165.40 988.0,1163.62 989.0,1161.82 990.0,1160.01 991.0,1158.19 992.0,1156.36 993.0,1154.52 994.0,1152.66 995.0,1150.79 996.0,1148.91 997.0,1147.02 998.0,1145.11 999.0,1143.20 1000.0,1141.27 1001.0,1139.33 1002.0,1137.38 1003.0,1135.41 1004.0,1133.44 1005.0,1131.45 1006.0,1129.45 1007.0,1127.44 1008.0,1125.42 1009.0,1123.38 1010.0,1121.34 1011.0,1119.28 1012.0,1117.21 1013.0,1115.13 1014.0,1113.04 1015.0,1110.93 1016.0,1108.82 1017.0,1106.69 1018.0,1104.56 1019.0,1102.41 1020.0,1100.25 1021.0,1098.07 1022.0,1095.89 1023.0,1093.70 1024.0,1091.49 1025.0,1089.28 1026.0,1087.05 1027.0,1084.81 1028.0,1082.56 1029.0,1080.30 1030.0,1078.03 1031.0,1075.75 1032.0,1073.46 1033.0,1071.16 1034.0,1068.85 1035.0,1066.52 1036.0,1064.19 1037.0,1061.84 1038.0,1059.49 1039.0,1057.12 1040.0,1054.75 1041.0,1052.36 1042.0,1049.97 1043.0,1047.56 1044.0,1045.15 1045.0,1042.72 1046.0,1040.29 1047.0,1037.84 1048.0,1035.39 1049.0,1032.92 1050.0,1030.45 1051.0,1027.96 1052.0,1025.47 1053.0,1022.97 1054.0,1020.45 1055.0,1017.93 1056.0,1015.40 1057.0,1012.86 1058.0,1010.31 1059.0,1007.76 1060.0,1005.19 1061.0,1002.62 1062.0,1000.03 1063.0,997.44 1064.0,994.84 1065.0,992.23 1066.0,989.61 1067.0,986.98 1068.0,984.35 1069.0,981.71 1070.0,979.05 1071.0,976.40 1072.0,973.73 1073.0,971.05 1074.0,968.37 1075.0,965.68 1076.0,962.98 1077.0,960.28 1078.0,957.56 1079.0,954.84 1080.0,952.12 1081.0,949.38 1082.0,946.64 1083.0,943.89 1084.0,941.14 1085.0,938.37 1086.0,935.60 1087.0,932.83 1088.0,930.05 1089.0,927.26 1090.0,924.46 1091.0,921.66 1092.0,918.85 1093.0,916.04 1094.0,913.22 1095.0,910.39 1096.0,907.56 1097.0,904.73 1098.0,901.88 1099.0,899.04 1100.0,896.18 1101.0,893.32 1102.0,890.46 1103.0,887.59 1104.0,884.72 1105.0,881.84 1106.0,878.95 1107.0,876.06 1108.0,873.17 1109.0,870.27 1110.0,867.37 1111.0,864.46 1112.0,861.55 1113.0,858.64 1114.0,855.72 1115.0,852.79 1116.0,849.87 1117.0,846.94 1118.0,844.00 1119.0,841.06 1120.0,838.12 1121.0,835.18 1122.0,832.23 1123.0,829.28 1124.0,826.32 1125.0,823.37 1126.0,820.41 1127.0,817.44 1128.0,814.48 1129.0,811.51 1130.0,808.54 1131.0,805.57 1132.0,802.59 1133.0,799.62 1134.0,796.64 1135.0,793.66 1136.0,790.67 1137.0,787.69 1138.0,784.70 1139.0,781.71 1140.0,778.73 1141.0,775.73 1142.0,772.74 1143.0,769.75 1144.0,766.76 1145.0,763.76 1146.0,760.77 1147.0,757.77 1148.0,754.77 1149.0,751.77 1150.0,748.78 1151.0,745.78 1152.0,742.78 1153.0,739.78 1154.0,736.78 1155.0,733.78 1156.0,730.79 1157.0,727.79 1158.0,724.79 1159.0,721.79 1160.0,718.80 1161.0,715.80 1162.0,712.80 1163.0,709.81 1164.0,706.82 1165.0,703.82 1166.0,700.83 1167.0,697.84 1168.0,694.85 1169.0,691.87 1170.0,688.88 1171.0,685.90 1172.0,682.92 1173.0,679.94 1174.0,676.96 1175.0,673.98 1176.0,671.01 1177.0,668.03 1178.0,665.07 1179.0,662.10 1180.0,659.13 1181.0,656.17 1182.0,653.21 1183.0,650.25 1184.0,647.30 1185.0,644.35 1186.0,641.40 1187.0,638.46 1188.0,635.52 1189.0,632.58 1190.0,629.64 1191.0,626.71 1192.0,623.78 1193.0,620.86 1194.0,617.94 1195.0,615.02 1196.0,612.11 1197.0,609.20 1198.0,606.30 1199.0,603.40 1200.0,600.50 1201.0,597.61 1202.0,594.72 1203.0,591.84 1204.0,588.96 1205.0,586.09 1206.0,583.22 1207.0,580.36 1208.0,577.50 1209.0,574.65 1210.0,571.80 1211.0,568.96 1212.0,566.12 1213.0,563.29 1214.0,560.46 1215.0,557.64 1216.0,554.82 1217.0,552.01 1218.0,549.21 1219.0,546.41 1220.0,543.62 1221.0,540.83 1222.0,538.05 1223.0,535.27 1224.0,532.50 1225.0,529.74 1226.0,526.99 1227.0,524.24 1228.0,521.49 1229.0,518.76 1230.0,516.03 1231.0,513.31 1232.0,510.59 1233.0,507.88 1234.0,505.18 1235.0,502.48 1236.0,499.79 1237.0,497.11 1238.0,494.44 1239.0,491.77 1240.0,489.11 1241.0,486.46 1242.0,483.81 1243.0,481.18 1244.0,478.55 1245.0,475.92 1246.0,473.31 1247.0,470.70 1248.0,468.10 1249.0,465.51 1250.0,462.93 1251.0,460.35 1252.0,457.79 1253.0,455.23 1254.0,452.68 1255.0,450.13 1256.0,447.60 1257.0,445.07 1258.0,442.56 1259.0,440.05 1260.0,437.54 1261.0,435.05 1262.0,432.57 1263.0,430.09 1264.0,427.63 1265.0,425.17 1266.0,422.72 1267.0,420.28 1268.0,417.85 1269.0,415.42 1270.0,413.01 1271.0,410.61 1272.0,408.21 1273.0,405.82 1274.0,403.45 1275.0,401.08 1276.0,398.72 1277.0,396.37 1278.0,394.03 1279.0,391.70 1280.0,389.38 1281.0,387.06 1282.0,384.76 1283.0,382.47 1284.0,380.18 1285.0,377.91 1286.0,375.65 1287.0,373.39 1288.0,371.14 1289.0,368.91 1290.0,366.68 1291.0,364.47 1292.0,362.26 1293.0,360.06 1294.0,357.88 1295.0,355.70 1296.0,353.53 1297.0,351.38 1298.0,349.23 1299.0,347.09 1300.0,344.97 1301.0,342.85 1302.0,340.74 1303.0,338.65 1304.0,336.56 1305.0,334.48 1306.0,332.42 1307.0,330.36 1308.0,328.32 1309.0,326.28 1310.0,324.26 1311.0,322.24 1312.0,320.24 1313.0,318.24 1314.0,316.26 1315.0,314.29 1316.0,312.32 1317.0,310.37 1318.0,308.43 1319.0,306.50 1320.0,304.58 1321.0,302.66 1322.0,300.76 1323.0,298.87 1324.0,296.99 1325.0,295.13 1326.0,293.27 1327.0,291.42 1328.0,289.58 1329.0,287.75 1330.0,285.94 1331.0,284.13 1332.0,282.34 1333.0,280.55 1334.0,278.78 1335.0,277.01 1336.0,275.26 1337.0,273.52 1338.0,271.79 1339.0,270.06 1340.0,268.35 1341.0,266.65 1342.0,264.96 1343.0,263.29 1344.0,261.62 1345.0,259.96 1346.0,258.31 1347.0,256.67 1348.0,255.05 1349.0,253.43 1350.0,251.83 1351.0,250.23 1352.0,248.65 1353.0,247.08 1354.0,245.51 1355.0,243.96 1356.0,242.42 1357.0,240.89 1358.0,239.37 1359.0,237.86 1360.0,236.36 1361.0,234.87 1362.0,233.39 1363.0,231.92 1364.0,230.46 1365.0,229.01 1366.0,227.57 1367.0,226.15 1368.0,224.73 1369.0,223.32 1370.0,221.93 1371.0,220.54 1372.0,219.17 1373.0,217.80 1374.0,216.45 1375.0,215.10 1376.0,213.77 1377.0,212.44 1378.0,211.13 1379.0,209.83 1380.0,208.53 1381.0,207.25 1382.0,205.97 1383.0,204.71 1384.0,203.46 1385.0,202.21 1386.0,200.98 1387.0,199.76 1388.0,198.54 1389.0,197.34 1390.0,196.15 1391.0,194.96 1392.0,193.79 1393.0,192.62 1394.0,191.47 1395.0,190.33 1396.0,189.19 1397.0,188.07 1398.0,186.95 1399.0,185.84 1400.0,184.75 1401.0,183.66 1402.0,182.58 1403.0,181.51 1404.0,180.46 1405.0,179.41 1406.0,178.37 1407.0,177.34 1408.0,176.32 1409.0,175.31 1410.0,174.30 1411.0,173.31 1412.0,172.33 1413.0,171.35 1414.0,170.39 1415.0,169.43 1416.0,168.48 1417.0,167.54 1418.0,166.61 1419.0,165.69 1420.0,164.78 1421.0,163.88 1422.0,162.98 1423.0,162.10 1424.0,161.22 1425.0,160.35 1426.0,159.49 1427.0,158.64 1428.0,157.80 1429.0,156.97 1430.0,156.14 1431.0,155.32 1432.0,154.51 1433.0,153.71 1434.0,152.92 1435.0,152.14 1436.0,151.36 1437.0,150.60 1438.0,149.84 1439.0,149.09 1440.0,148.34 1441.0,147.61 1442.0,146.88 1443.0,146.16 1444.0,145.45 1445.0,144.74 1446.0,144.05 1447.0,143.36 1448.0,142.68 1449.0,142.01 1450.0,141.34 1451.0,140.68 1452.0,140.03 1453.0,139.39 1454.0,138.75 1455.0,138.12 1456.0,137.50 1457.0,136.89 1458.0,136.28 1459.0,135.68 1460.0,135.09 1461.0,134.50 1462.0,133.93 1463.0,133.35 1464.0,132.79 1465.0,132.23 1466.0,131.68 1467.0,131.14 1468.0,130.60 1469.0,130.07 1470.0,129.54 1471.0,129.02 1472.0,128.51 1473.0,128.01 1474.0,127.51 1475.0,127.02 1476.0,126.53 1477.0,126.05 1478.0,125.58 1479.0,125.11 1480.0,124.65 1481.0,124.19 1482.0,123.74 1483.0,123.30 1484.0,122.86 1485.0,122.43 1486.0,122.00 1487.0,121.58 1488.0,121.17 1489.0,120.76 1490.0,120.35 1491.0,119.96 1492.0,119.56 1493.0,119.18 1494.0,118.79 1495.0,118.42 1496.0,118.05 1497.0,117.68 1498.0,117.32 1499.0,116.96 1500.0,116.61 1501.0,116.27 1502.0,115.93 1503.0,115.59 1504.0,115.26 1505.0,114.94 1506.0,114.61 1507.0,114.30 1508.0,113.99 1509.0,113.68 1510.0,113.38 1511.0,113.08 1512.0,112.79 1513.0,112.50 1514.0,112.21 1515.0,111.93 1516.0,111.66 1517.0,111.38 1518.0,111.12 1519.0,110.85 1520.0,110.59 1521.0,110.34 1522.0,110.09 1523.0,109.84 1524.0,109.60 1525.0,109.36 1526.0,109.12 1527.0,108.89 1528.0,108.67 1529.0,108.44 1530.0,108.22 1531.0,108.00 1532.0,107.79 1533.0,107.58 1534.0,107.38 1535.0,107.17 1536.0,106.97 1537.0,106.78 1538.0,106.59 1539.0,106.40 1540.0,106.21 1541.0,106.03 1542.0,105.85 1543.0,105.67 1544.0,105.50 1545.0,105.33 1546.0,105.16 1547.0,105.00 1548.0,104.84 1549.0,104.68 1550.0,104.52 1551.0,104.37 1552.0,104.22 1553.0,104.07 1554.0,103.93 1555.0,103.78 1556.0,103.65 1557.0,103.51 1558.0,103.37 1559.0,103.24 1560.0,103.11 1561.0,102.99 1562.0,102.86 1563.0,102.74 1564.0,102.62 1565.0,102.50 1566.0,102.39 1567.0,102.28 1568.0,102.16 1569.0,102.06 1570.0,101.95 1571.0,101.85 1572.0,101.74 1573.0,101.64 1574.0,101.54 1575.0,101.45 1576.0,101.35 1577.0,101.26 1578.0,101.17 1579.0,101.08 1580.0,101.00 1581.0,100.91 1582.0,100.83 1583.0,100.75 1584.0,100.67 1585.0,100.59 1586.0,100.51 1587.0,100.44 1588.0,100.36 1589.0,100.29 1590.0,100.22 1591.0,100.15 1592.0,100.09 1593.0,100.02 1594.0,99.96 1595.0,99.89 1596.0,99.83 1597.0,99.77 1598.0,99.71 1599.0,99.65 1600.0,99.60 1601.0,99.54 1602.0,99.49 1603.0,99.44 1604.0,99.39 1605.0,99.34 1606.0,99.29 1607.0,99.24 1608.0,99.19 1609.0,99.15 1610.0,99.10 1611.0,99.06 1612.0,99.02 1613.0,98.97 1614.0,98.93 1615.0,98.89 1616.0,98.86 1617.0,98.82 1618.0,98.78 1619.0,98.75 1620.0,98.71 1621.0,98.68 1622.0,98.64 1623.0,98.61 1624.0,98.58 1625.0,98.55 1626.0,98.52 1627.0,98.49 1628.0,98.46 1629.0,98.43 1630.0,98.40 1631.0,98.38 1632.0,98.35 1633.0,98.33 1634.0,98.30 1635.0,98.28 1636.0,98.26 1637.0,98.23 1638.0,98.21 1639.0,98.19 1640.0,98.17 1641.0,98.15 1642.0,98.13 1643.0,98.11 1644.0,98.09 1645.0,98.07 1646.0,98.05 1647.0,98.04 1648.0,98.02 1649.0,98.00 1650.0,97.99 1651.0,97.97 1652.0,97.96 1653.0,97.94 1654.0,97.93 1655.0,97.92 1656.0,97.90 1657.0,97.89 1658.0,97.88 1659.0,97.86 1660.0,97.85 1661.0,97.84 1662.0,97.83 1663.0,97.82 1664.0,97.81 1665.0,97.80 1666.0,97.79 1667.0,97.78 1668.0,97.77 1669.0,97.76 1670.0,97.75 1671.0,97.74 1672.0,97.73 1673.0,97.73 1674.0,97.72 1675.0,97.71 1676.0,97.70 1677.0,97.70 1678.0,97.69 1679.0,97.68 1680.0,97.68 1681.0,97.67 1682.0,97.66 1683.0,97.66 1684.0,97.65 1685.0,97.65 1686.0,97.64 1687.0,97.64 1688.0,97.63 1689.0,97.63 1690.0,97.62 1691.0,97.62 1692.0,97.61 1693.0,97.61 1694.0,97.61 1695.0,97.60 1696.0,97.60 1697.0,97.59 1698.0,97.59 1699.0,97.59 1700.0,97.58 1701.0,97.58 1702.0,97.58 1703.0,97.58 1704.0,97.57 1705.0,97.57 1706.0,97.57 1707.0,97.56 1708.0,97.56 1709.0,97.56 1710.0,97.56 1711.0,97.55 1712.0,97.55 1713.0,97.55 1714.0,97.55 1715.0,97.55 1716.0,97.54 1717.0,97.54 1718.0,97.54 1719.0,97.54 1720.0,97.54 1721.0,97.54 1722.0,97.53 1723.0,97.53 1724.0,97.53 1725.0,97.53 1726.0,97.53 1727.0,97.53 1728.0,97.53 1729.0,97.53 1730.0,97.52 1731.0,97.52 1732.0,97.52 1733.0,97.52 1734.0,97.52 1735.0,97.52 1736.0,97.52 1737.0,97.52 1738.0,97.52 1739.0,97.52 1740.0,97.52 1741.0,97.52 1742.0,97.51 1743.0,97.51 1744.0,97.51 1745.0,97.51 1746.0,97.51 1747.0,97.51 1748.0,97.51 1749.0,97.51 1750.0,97.51 1751.0,97.51 1752.0,97.51 1753.0,97.51 1754.0,97.51 1755.0,97.51 1756.0,97.51 1757.0,97.51 1758.0,97.51 1759.0,97.51 1760.0,97.51 1761.0,97.51 1762.0,97.51 1763.0,97.51 1764.0,97.51 1765.0,97.50 1766.0,97.50 1767.0,97.50 1768.0,97.50 1769.0,97.50 1770.0,97.50 1771.0,97.50 1772.0,97.50 1773.0,97.50 1774.0,97.50 1775.0,97.50 1776.0,97.50 1777.0,97.50 1778.0,97.50 1779.0,97.50 1780.0,97.50 1781.0,97.50 1782.0,97.50 1783.0,97.50 1784.0,97.50 1785.0,97.50 1786.0,97.50 1787.0,97.50 1788.0,97.50 1789.0,97.50 1790.0,97.50 1791.0,97.50 1792.0,97.50 1793.0,97.50 1794.0,97.50 1795.0,97.50 1796.0,97.50 1797.0,97.50 1798.0,97.50 1799.0,97.50 1800.0,97.50 1801.0,97.50 1802.0,97.50 1803.0,97.50 1804.0,97.50 1805.0,97.50 1806.0,97.50 1807.0,97.50 1808.0,97.50 1809.0,97.50 1810.0,97.50 1811.0,97.50 1812.0,97.50 1813.0,97.50 1814.0,97.50 1815.0,97.50 1816.0,97.50 1817.0,97.50 1818.0,97.50 1819.0,97.50 1820.0,97.50 1821.0,97.50 1822.0,97.50 1823.0,97.50 1824.0,97.50 1825.0,97.50 1826.0,97.50 1827.0,97.50 1828.0,97.50 1829.0,97.50 1830.0,97.50 1831.0,97.50 1832.0,97.50 1833.0,97.50 1834.0,97.50 1835.0,97.50 1836.0,97.50 1837.0,97.50 1838.0,97.50 1839.0,97.50 1840.0,97.50 1841.0,97.50 1842.0,97.50 1843.0,97.50 1844.0,97.50 1845.0,97.50 1846.0,97.50 1847.0,97.50 1848.0,97.50 1849.0,97.50 1850.0,97.50 1851.0,97.50 1852.0,97.50 1853.0,97.50 1854.0,97.50 1855.0,97.50 1856.0,97.50 1857.0,97.50 1858.0,97.50 1859.0,97.50 1860.0,97.50 1861.0,97.50 1862.0,97.50 1863.0,97.50 1864.0,97.50 1865.0,97.50 1866.0,97.50 1867.0,97.50 1868.0,97.50 1869.0,97.50 1870.0,97.50 1871.0,97.50 1872.0,97.50 1873.0,97.50 1874.0,97.50 1875.0,97.50 1876.0,97.50 1877.0,97.50 1878.0,97.50 1879.0,97.50 1880.0,97.50 1881.0,97.50 1882.0,97.50 1883.0,97.50 1884.0,97.50 1885.0,97.50 1886.0,97.50 1887.0,97.50 1888.0,97.50 1889.0,97.50 1890.0,97.50 1891.0,97.50 1892.0,97.50 1893.0,97.50 1894.0,97.50 1895.0,97.50 1896.0,97.50 1897.0,97.50 1898.0,97.50 1899.0,97.50 1900.0,97.50 1901.0,97.50 1902.0,97.50 1903.0,97.50 1904.0,97.50 1905.0,97.50 1906.0,97.50 1907.0,97.50 1908.0,97.50 1909.0,97.50 1910.0,97.50 1911.0,97.50 1912.0,97.50 1913.0,97.50 1914.0,97.50 1915.0,97.50 1916.0,97.50 1917.0,97.50 1918.0,97.50 1919.0,97.50 1920.0,97.50 1921.0,97.50 1922.0,97.50 1923.0,97.50 1924.0,97.50 1925.0,97.50 1926.0,97.50 1927.0,97.50 1928.0,97.50 1929.0,97.50 1930.0,97.50 1931.0,97.50 1932.0,97.50 1933.0,97.50 1934.0,97.50 1935.0,97.50 1936.0,97.50 1937.0,97.50 1938.0,97.50 1939.0,97.50 1940.0,97.50 1941.0,97.50 1942.0,97.50 1943.0,97.50 1944.0,97.50 1945.0,97.50 1946.0,97.50 1947.0,97.50 1948.0,97.50 1949.0,97.50 1950.0,97.50 1951.0,97.50 1952.0,97.50 1953.0,97.50 1954.0,97.50 1955.0,97.50 1956.0,97.50 1957.0,97.50 1958.0,97.50 1959.0,97.50 1960.0,97.50 1961.0,97.50 1962.0,97.50 1963.0,97.50 1964.0,97.50 1965.0,97.50 1966.0,97.50 1967.0,97.50 1968.0,97.50 1969.0,97.50 1970.0,97.50 1971.0,97.50 1972.0,97.50 1973.0,97.50 1974.0,97.50 1975.0,97.50 1976.0,97.50 1977.0,97.50 1978.0,97.50 1979.0,97.50 1980.0,97.50 1981.0,97.50 1982.0,97.50 1983.0,97.50 1984.0,97.50 1985.0,97.50 1986.0,97.50 1987.0,97.50 1988.0,97.50 1989.0,97.50 1990.0,97.50 1991.0,97.50 1992.0,97.50" fill="none" stroke="url(#g1)" stroke-width="6" stroke-linejoin="round" stroke-linecap="butt"/>
<polyline points="288.7,1324.50 289.7,1324.50 290.7,1324.50 291.7,1324.50 292.7,1324.50 293.7,1324.50 294.7,1324.50 295.7,1324.50 296.7,1324.50 297.7,1324.50 298.7,1324.50 299.7,1324.50 300.7,1324.50 301.7,1324.50 302.7,1324.50 303.7,1324.50 304.7,1324.50 305.7,1324.50 306.7,1324.50 307.7,1324.50 308.7,1324.50 309.7,1324.50 310.7,1324.50 311.7,1324.50 312.7,1324.50 313.7,1324.50 314.7,1324.50 315.7,1324.50 316.7,1324.50 317.7,1324.50 318.7,1324.50 319.7,1324.50 320.7,1324.50 321.7,1324.50 322.7,1324.50 323.7,1324.50 324.7,1324.50 325.7,1324.50 326.7,1324.50 327.7,1324.50 328.7,1324.50 329.7,1324.50 330.7,1324.50 331.7,1324.50 332.7,1324.50 333.7,1324.50 334.7,1324.50 335.7,1324.50 336.7,1324.50 337.7,1324.50 338.7,1324.50 339.7,1324.50 340.7,1324.50 341.7,1324.50 342.7,1324.50 343.7,1324.50 344.7,1324.50 345.7,1324.50 346.7,1324.50 347.7,1324.50 348.7,1324.50 349.7,1324.50 350.7,1324.50 351.7,1324.50 352.7,1324.50 353.7,1324.50 354.7,1324.50 355.7,1324.50 356.7,1324.50 357.7,1324.50 358.7,1324.50 359.7,1324.50 360.7,1324.50 361.7,1324.50 362.7,1324.50 363.7,1324.50 364.7,1324.50 365.7,1324.50 366.7,1324.50 367.7,1324.50 368.7,1324.50 369.7,1324.50 370.7,1324.50 371.7,1324.50 372.7,1324.50 373.7,1324.50 374.7,1324.50 375.7,1324.50 376.7,1324.50 377.7,1324.50 378.7,1324.50 379.7,1324.50 380.7,1324.50 381.7,1324.50 382.7,1324.50 383.7,1324.50 384.7,1324.50 385.7,1324.50 386.7,1324.50 387.7,1324.50 388.7,1324.50 389.7,1324.50 390.7,1324.50 391.7,1324.50 392.7,1324.50 393.7,1324.50 394.7,1324.50 395.7,1324.50 396.7,1324.50 397.7,1324.50 398.7,1324.50 399.7,1324.50 400.7,1324.50 401.7,1324.50 402.7,1324.50 403.7,1324.50 404.7,1324.50 405.7,1324.50 406.7,1324.50 407.7,1324.50 408.7,1324.50 409.7,1324.50 410.7,1324.50 411.7,1324.50 412.7,1324.50 413.7,1324.50 414.7,1324.50 415.7,1324.50 416.7,1324.50 417.7,1324.50 418.7,1324.50 419.7,1324.50 420.7,1324.50 421.7,1324.50 422.7,1324.50 423.7,1324.50 424.7,1324.50 425.7,1324.50 426.7,1324.50 427.7,1324.50 428.7,1324.50 429.7,1324.50 430.7,1324.50 431.7,1324.50 432.7,1324.50 433.7,1324.50 434.7,1324.50 435.7,1324.50 436.7,1324.50 437.7,1324.50 438.7,1324.50 439.7,1324.50 440.7,1324.50 441.7,1324.50 442.7,1324.50 443.7,1324.50 444.7,1324.50 445.7,1324.50 446.7,1324.50 447.7,1324.50 448.7,1324.50 449.7,1324.50 450.7,1324.50 451.7,1324.50 452.7,1324.50 453.7,1324.50 454.7,1324.50 455.7,1324.50 456.7,1324.50 457.7,1324.50 458.7,1324.50 459.7,1324.50 460.7,1324.50 461.7,1324.50 462.7,1324.50 463.7,1324.50 464.7,1324.50 465.7,1324.50 466.7,1324.50 467.7,1324.50 468.7,1324.50 469.7,1324.50 470.7,1324.50 471.7,1324.50 472.7,1324.50 473.7,1324.50 474.7,1324.50 475.7,1324.50 476.7,1324.50 477.7,1324.50 478.7,1324.50 479.7,1324.50 480.7,1324.50 481.7,1324.50 482.7,1324.50 483.7,1324.50 484.7,1324.50 485.7,1324.50 486.7,1324.50 487.7,1324.50 488.7,1324.50 489.7,1324.50 490.7,1324.50 491.7,1324.50 492.7,1324.50 493.7,1324.50 494.7,1324.50 495.7,1324.50 496.7,1324.50 497.7,1324.50 498.7,1324.50 499.7,1324.50 500.7,1324.50 501.7,1324.50 502.7,1324.50 503.7,1324.50 504.7,1324.50 505.7,1324.50 506.7,1324.50 507.7,1324.50 508.7,1324.50 509.7,1324.50 510.7,1324.50 511.7,1324.50 512.7,1324.50 513.7,1324.50 514.7,1324.50 515.7,1324.50 516.7,1324.50 517.7,1324.50 518.7,1324.50 519.7,1324.50 520.7,1324.50 521.7,1324.50 522.7,1324.50 523.7,1324.50 524.7,1324.50 525.7,1324.50 526.7,1324.50 527.7,1324.50 528.7,1324.50 529.7,1324.50 530.7,1324.50 531.7,1324.50 532.7,1324.50 533.7,1324.50 534.7,1324.50 535.7,1324.50 536.7,1324.50 537.7,1324.50 538.7,1324.50 539.7,1324.50 540.7,1324.50 541.7,1324.50 542.7,1324.50 543.7,1324.50 544.7,1324.50 545.7,1324.50 546.7,1324.50 547.7,1324.50 548.7,1324.50 549.7,1324.50 550.7,1324.50 551.7,1324.50 552.7,1324.50 553.7,1324.50 554.7,1324.50 555.7,1324.50 556.7,1324.50 557.7,1324.50 558.7,1324.50 559.7,1324.50 560.7,1324.50 561.7,1324.50 562.7,1324.50 563.7,1324.50 564.7,1324.50 565.7,1324.50 566.7,1324.50 567.7,1324.50 568.7,1324.50 569.7,1324.50 570.7,1324.50 571.7,1324.50 572.7,1324.50 573.7,1324.50 574.7,1324.50 575.7,1324.50 576.7,1324.50 577.7,1324.50 578.7,1324.50 579.7,1324.50 580.7,1324.50 581.7,1324.50 582.7,1324.50 583.7,1324.50 584.7,1324.50 585.7,1324.50 586.7,1324.50 587.7,1324.50 588.7,1324.50 589.7,1324.50 590.7,1324.50 591.7,1324.50 592.7,1324.50 593.7,1324.50 594.7,1324.50 595.7,1324.50 596.7,1324.50 597.7,1324.50 598.7,1324.50 599.7,1324.50 600.7,1324.50 601.7,1324.50 602.7,1324.50 603.7,1324.50 604.7,1324.50 605.7,1324.50 606.7,1324.50 607.7,1324.50 608.7,1324.50 609.7,1324.50 610.7,1324.50 611.7,1324.50 612.7,1324.50 613.7,1324.50 614.7,1324.50 615.7,1324.50 616.7,1324.50 617.7,1324.50 618.7,1324.50 619.7,1324.50 620.7,1324.50 621.7,1324.50 622.7,1324.50 623.7,1324.50 624.7,1324.50 625.7,1324.50 626.7,1324.50 627.7,1324.50 628.7,1324.50 629.7,1324.50 630.7,1324.50 631.7,1324.50 632.7,1324.50 633.7,1324.50 634.7,1324.50 635.7,1324.50 636.7,1324.50 637.7,1324.50 638.7,1324.50 639.7,1324.50 640.7,1324.50 641.7,1324.50 642.7,1324.50 643.7,1324.50 644.7,1324.50 645.7,1324.50 646.7,1324.50 647.7,1324.50 648.7,1324.50 649.7,1324.50 650.7,1324.50 651.7,1324.50 652.7,1324.50 653.7,1324.50 654.7,1324.50 655.7,1324.50 656.7,1324.50 657.7,1324.50 658.7,1324.50 659.7,1324.50 660.7,1324.50 661.7,1324.50 662.7,1324.50 663.7,1324.50 664.7,1324.50 665.7,1324.50 666.7,1324.50 667.7,1324.50 668.7,1324.50 669.7,1324.50 670.7,1324.50 671.7,1324.50 672.7,1324.50 673.7,1324.50 674.7,1324.50 675.7,1324.50 676.7,1324.50 677.7,1324.50 678.7,1324.50 679.7,1324.50 680.7,1324.50 681.7,1324.50 682.7,1324.50 683.7,1324.50 684.7,1324.50 685.7,1324.50 686.7,1324.50 687.7,1324.50 688.7,1324.50 689.7,1324.50 690.7,1324.50 691.7,1324.50 692.7,1324.50 693.7,1324.50 694.7,1324.50 695.7,1324.50 696.7,1324.50 697.7,1324.50 698.7,1324.50 699.7,1324.50 700.7,1324.50 701.7,1324.50 702.7,1324.50 703.7,1324.50 704.7,1324.50 705.7,1324.50 706.7,1324.50 707.7,1324.50 708.7,1324.50 709.7,1324.50 710.7,1324.50 711.7,1324.50 712.7,1324.50 713.7,1324.50 714.7,1324.50 715.7,1324.50 716.7,1324.50 717.7,1324.50 718.7,1324.50 719.7,1324.50 720.7,1324.50 721.7,1324.50 722.7,1324.50 723.7,1324.50 724.7,1324.50 725.7,1324.50 726.7,1324.50 727.7,1324.50 728.7,1324.50 729.7,1324.50 730.7,1324.50 731.7,1324.50 732.7,1324.50 733.7,1324.50 734.7,1324.50 735.7,1324.50 736.7,1324.50 737.7,1324.50 738.7,1324.50 739.7,1324.50 740.7,1324.50 741.7,1324.50 742.7,1324.50 743.7,1324.50 744.7,1324.50 745.7,1324.50 746.7,1324.50 747.7,1324.50 748.7,1324.50 749.7,1324.50 750.7,1324.50 751.7,1324.50 752.7,1324.50 753.7,1324.50 754.7,1324.50 755.7,1324.50 756.7,1324.50 757.7,1324.50 758.7,1324.50 759.7,1324.50 760.7,1324.50 761.7,1324.50 762.7,1324.50 763.7,1324.50 764.7,1324.50 765.7,1324.50 766.7,1324.50 767.7,1324.50 768.7,1324.50 769.7,1324.50 770.7,1324.50 771.7,1324.50 772.7,1324.50 773.7,1324.50 774.7,1324.50 775.7,1324.50 776.7,1324.50 777.7,1324.50 778.7,1324.50 779.7,1324.50 780.7,1324.50 781.7,1324.50 782.7,1324.50 783.7,1324.50 784.7,1324.50 785.7,1324.50 786.7,1324.50 787.7,1324.50 788.7,1324.50 789.7,1324.50 790.7,1324.50 791.7,1324.50 792.7,1324.50 793.7,1324.50 794.7,1324.50 795.7,1324.50 796.7,1324.50 797.7,1324.50 798.7,1324.50 799.7,1324.50 800.7,1324.50 801.7,1324.50 802.7,1324.50 803.7,1324.50 804.7,1324.50 805.7,1324.50 806.7,1324.50 807.7,1324.50 808.7,1324.50 809.7,1324.50 810.7,1324.50 811.7,1324.50 812.7,1324.50 813.7,1324.50 814.7,1324.50 815.7,1324.50 816.7,1324.50 817.7,1324.50 818.7,1324.50 819.7,1324.50 820.7,1324.50 821.7,1324.50 822.7,1324.50 823.7,1324.50 824.7,1324.50 825.7,1324.50 826.7,1324.50 827.7,1324.50 828.7,1324.50 829.7,1324.50 830.7,1324.50 831.7,1324.50 832.7,1324.50 833.7,1324.50 834.7,1324.50 835.7,1324.50 836.7,1324.50 837.7,1324.50 838.7,1324.50 839.7,1324.50 840.7,1324.50 841.7,1324.50 842.7,1324.50 843.7,1324.50 844.7,1324.50 845.7,1324.50 846.7,1324.50 847.7,1324.50 848.7,1324.50 849.7,1324.50 850.7,1324.50 851.7,1324.50 852.7,1324.50 853.7,1324.50 854.7,1324.50 855.7,1324.50 856.7,1324.50 857.7,1324.50 858.7,1324.50 859.7,1324.50 860.7,1324.50 861.7,1324.50 862.7,1324.50 863.7,1324.50 864.7,1324.50 865.7,1324.50 866.7,1324.50 867.7,1324.50 868.7,1324.50 869.7,1324.50 870.7,1324.50 871.7,1324.50 872.7,1324.50 873.7,1324.50 874.7,1324.50 875.7,1324.50 876.7,1324.50 877.7,1324.50 878.7,1324.50 879.7,1324.50 880.7,1324.50 881.7,1324.50 882.7,1324.50 883.7,1324.50 884.7,1324.50 885.7,1324.50 886.7,1324.50 887.7,1324.50 888.7,1324.50 889.7,1324.50 890.7,1324.50 891.7,1324.50 892.7,1324.50 893.7,1324.50 894.7,1324.50 895.7,1324.50 896.7,1324.50 897.7,1324.50 898.7,1324.50 899.7,1324.50 900.7,1324.50 901.7,1324.50 902.7,1324.50 903.7,1324.50 904.7,1324.50 905.7,1324.50 906.7,1324.50 907.7,1324.50 908.7,1324.50 909.7,1324.50 910.7,1324.50 911.7,1324.50 912.7,1324.50 913.7,1324.50 914.7,1324.50 915.7,1324.50 916.7,1324.50 917.7,1324.50 918.7,1324.50 919.7,1324.50 920.7,1324.50 921.7,1324.50 922.7,1324.50 923.7,1324.50 924.7,1324.50 925.7,1324.50 926.7,1324.50 927.7,1324.50 928.7,1324.50 929.7,1324.50 930.7,1324.50 931.7,1324.50 932.7,1324.50 933.7,1324.50 934.7,1324.50 935.7,1324.50 936.7,1324.50 937.7,1324.50 938.7,1324.50 939.7,1324.50 940.7,1324.50 941.7,1324.50 942.7,1324.50 943.7,1324.50 944.7,1324.50 945.7,1324.50 946.7,1324.50 947.7,1324.50 948.7,1324.50 949.7,1324.50 950.7,1324.50 951.7,1324.50 952.7,1324.50 953.7,1324.50 954.7,1324.50 955.7,1324.50 956.7,1324.50 957.7,1324.50 958.7,1324.50 959.7,1324.50 960.7,1324.50 961.7,1324.50 962.7,1324.50 963.7,1324.50 964.7,1324.50 965.7,1324.50 966.7,1324.50 967.7,1324.50 968.7,1324.50 969.7,1324.50 970.7,1324.50 971.7,1324.50 972.7,1324.50 973.7,1324.50 974.7,1324.50 975.7,1324.49 976.7,1324.49 977.7,1324.49 978.7,1324.49 979.7,1324.49 980.7,1324.49 981.7,1324.49 982.7,1324.49 983.7,1324.49 984.7,1324.49 985.7,1324.49 986.7,1324.49 987.7,1324.49 988.7,1324.49 989.7,1324.49 990.7,1324.49 991.7,1324.49 992.7,1324.49 993.7,1324.49 994.7,1324.49 995.7,1324.49 996.7,1324.49 997.7,1324.48 998.7,1324.48 999.7,1324.48 1000.7,1324.48 1001.7,1324.48 1002.7,1324.48 1003.7,1324.48 1004.7,1324.48 1005.7,1324.48 1006.7,1324.48 1007.7,1324.47 1008.7,1324.47 1009.7,1324.47 1010.7,1324.47 1011.7,1324.47 1012.7,1324.47 1013.7,1324.47 1014.7,1324.47 1015.7,1324.46 1016.7,1324.46 1017.7,1324.46 1018.7,1324.46 1019.7,1324.46 1020.7,1324.45 1021.7,1324.45 1022.7,1324.45 1023.7,1324.45 1024.7,1324.45 1025.7,1324.44 1026.7,1324.44 1027.7,1324.44 1028.7,1324.44 1029.7,1324.43 1030.7,1324.43 1031.7,1324.43 1032.7,1324.42 1033.7,1324.42 1034.7,1324.42 1035.7,1324.41 1036.7,1324.41 1037.7,1324.41 1038.7,1324.40 1039.7,1324.40 1040.7,1324.39 1041.7,1324.39 1042.7,1324.39 1043.7,1324.38 1044.7,1324.38 1045.7,1324.37 1046.7,1324.37 1047.7,1324.36 1048.7,1324.35 1049.7,1324.35 1050.7,1324.34 1051.7,1324.34 1052.7,1324.33 1053.7,1324.32 1054.7,1324.32 1055.7,1324.31 1056.7,1324.30 1057.7,1324.29 1058.7,1324.28 1059.7,1324.28 1060.7,1324.27 1061.7,1324.26 1062.7,1324.25 1063.7,1324.24 1064.7,1324.23 1065.7,1324.22 1066.7,1324.21 1067.7,1324.20 1068.7,1324.19 1069.7,1324.18 1070.7,1324.16 1071.7,1324.15 1072.7,1324.14 1073.7,1324.13 1074.7,1324.11 1075.7,1324.10 1076.7,1324.08 1077.7,1324.07 1078.7,1324.05 1079.7,1324.04 1080.7,1324.02 1081.7,1324.00 1082.7,1323.99 1083.7,1323.97 1084.7,1323.95 1085.7,1323.93 1086.7,1323.91 1087.7,1323.89 1088.7,1323.87 1089.7,1323.85 1090.7,1323.82 1091.7,1323.80 1092.7,1323.78 1093.7,1323.75 1094.7,1323.73 1095.7,1323.70 1096.7,1323.68 1097.7,1323.65 1098.7,1323.62 1099.7,1323.59 1100.7,1323.56 1101.7,1323.53 1102.7,1323.50 1103.7,1323.47 1104.7,1323.43 1105.7,1323.40 1106.7,1323.36 1107.7,1323.33 1108.7,1323.29 1109.7,1323.25 1110.7,1323.21 1111.7,1323.17 1112.7,1323.13 1113.7,1323.09 1114.7,1323.04 1115.7,1323.00 1116.7,1322.95 1117.7,1322.91 1118.7,1322.86 1119.7,1322.81 1120.7,1322.76 1121.7,1322.70 1122.7,1322.65 1123.7,1322.59 1124.7,1322.54 1125.7,1322.48 1126.7,1322.42 1127.7,1322.36 1128.7,1322.30 1129.7,1322.23 1130.7,1322.16 1131.7,1322.10 1132.7,1322.03 1133.7,1321.96 1134.7,1321.88 1135.7,1321.81 1136.7,1321.73 1137.7,1321.66 1138.7,1321.58 1139.7,1321.49 1140.7,1321.41 1141.7,1321.32 1142.7,1321.24 1143.7,1321.15 1144.7,1321.05 1145.7,1320.96 1146.7,1320.86 1147.7,1320.76 1148.7,1320.66 1149.7,1320.56 1150.7,1320.45 1151.7,1320.35 1152.7,1320.24 1153.7,1320.12 1154.7,1320.01 1155.7,1319.89 1156.7,1319.77 1157.7,1319.65 1158.7,1319.52 1159.7,1319.39 1160.7,1319.26 1161.7,1319.12 1162.7,1318.99 1163.7,1318.85 1164.7,1318.70 1165.7,1318.56 1166.7,1318.41 1167.7,1318.26 1168.7,1318.10 1169.7,1317.94 1170.7,1317.78 1171.7,1317.61 1172.7,1317.45 1173.7,1317.27 1174.7,1317.10 1175.7,1316.92 1176.7,1316.74 1177.7,1316.55 1178.7,1316.36 1179.7,1316.17 1180.7,1315.97 1181.7,1315.77 1182.7,1315.56 1183.7,1315.35 1184.7,1315.14 1185.7,1314.92 1186.7,1314.70 1187.7,1314.47 1188.7,1314.24 1189.7,1314.01 1190.7,1313.77 1191.7,1313.53 1192.7,1313.28 1193.7,1313.03 1194.7,1312.77 1195.7,1312.51 1196.7,1312.24 1197.7,1311.97 1198.7,1311.70 1199.7,1311.42 1200.7,1311.13 1201.7,1310.84 1202.7,1310.54 1203.7,1310.24 1204.7,1309.94 1205.7,1309.62 1206.7,1309.31 1207.7,1308.98 1208.7,1308.66 1209.7,1308.32 1210.7,1307.98 1211.7,1307.64 1212.7,1307.29 1213.7,1306.93 1214.7,1306.57 1215.7,1306.20 1216.7,1305.83 1217.7,1305.45 1218.7,1305.06 1219.7,1304.67 1220.7,1304.27 1221.7,1303.87 1222.7,1303.45 1223.7,1303.04 1224.7,1302.61 1225.7,1302.18 1226.7,1301.74 1227.7,1301.30 1228.7,1300.85 1229.7,1300.39 1230.7,1299.92 1231.7,1299.45 1232.7,1298.97 1233.7,1298.49 1234.7,1297.99 1235.7,1297.49 1236.7,1296.98 1237.7,1296.47 1238.7,1295.94 1239.7,1295.41 1240.7,1294.87 1241.7,1294.33 1242.7,1293.78 1243.7,1293.21 1244.7,1292.64 1245.7,1292.07 1246.7,1291.48 1247.7,1290.89 1248.7,1290.29 1249.7,1289.68 1250.7,1289.06 1251.7,1288.43 1252.7,1287.80 1253.7,1287.15 1254.7,1286.50 1255.7,1285.84 1256.7,1285.17 1257.7,1284.50 1258.7,1283.81 1259.7,1283.11 1260.7,1282.41 1261.7,1281.70 1262.7,1280.97 1263.7,1280.24 1264.7,1279.50 1265.7,1278.75 1266.7,1277.99 1267.7,1277.22 1268.7,1276.45 1269.7,1275.66 1270.7,1274.86 1271.7,1274.06 1272.7,1273.24 1273.7,1272.41 1274.7,1271.58 1275.7,1270.73 1276.7,1269.88 1277.7,1269.01 1278.7,1268.14 1279.7,1267.25 1280.7,1266.36 1281.7,1265.45 1282.7,1264.53 1283.7,1263.61 1284.7,1262.67 1285.7,1261.73 1286.7,1260.77 1287.7,1259.80 1288.7,1258.82 1289.7,1257.83 1290.7,1256.83 1291.7,1255.82 1292.7,1254.80 1293.7,1253.77 1294.7,1252.73 1295.7,1251.68 1296.7,1250.61 1297.7,1249.54 1298.7,1248.45 1299.7,1247.35 1300.7,1246.24 1301.7,1245.13 1302.7,1243.99 1303.7,1242.85 1304.7,1241.70 1305.7,1240.54 1306.7,1239.36 1307.7,1238.17 1308.7,1236.97 1309.7,1235.77 1310.7,1234.54 1311.7,1233.31 1312.7,1232.07 1313.7,1230.81 1314.7,1229.54 1315.7,1228.26 1316.7,1226.97 1317.7,1225.67 1318.7,1224.36 1319.7,1223.03 1320.7,1221.69 1321.7,1220.34 1322.7,1218.98 1323.7,1217.61 1324.7,1216.22 1325.7,1214.83 1326.7,1213.42 1327.7,1212.00 1328.7,1210.57 1329.7,1209.12 1330.7,1207.66 1331.7,1206.20 1332.7,1204.71 1333.7,1203.22 1334.7,1201.72 1335.7,1200.20 1336.7,1198.67 1337.7,1197.13 1338.7,1195.58 1339.7,1194.01 1340.7,1192.44 1341.7,1190.85 1342.7,1189.24 1343.7,1187.63 1344.7,1186.00 1345.7,1184.37 1346.7,1182.72 1347.7,1181.05 1348.7,1179.38 1349.7,1177.69 1350.7,1176.00 1351.7,1174.28 1352.7,1172.56 1353.7,1170.83 1354.7,1169.08 1355.7,1167.32 1356.7,1165.55 1357.7,1163.77 1358.7,1161.97 1359.7,1160.16 1360.7,1158.34 1361.7,1156.51 1362.7,1154.67 1363.7,1152.81 1364.7,1150.95 1365.7,1149.07 1366.7,1147.17 1367.7,1145.27 1368.7,1143.36 1369.7,1141.43 1370.7,1139.49 1371.7,1137.54 1372.7,1135.57 1373.7,1133.60 1374.7,1131.61 1375.7,1129.62 1376.7,1127.61 1377.7,1125.58 1378.7,1123.55 1379.7,1121.51 1380.7,1119.45 1381.7,1117.38 1382.7,1115.30 1383.7,1113.21 1384.7,1111.11 1385.7,1108.99 1386.7,1106.87 1387.7,1104.73 1388.7,1102.58 1389.7,1100.42 1390.7,1098.25 1391.7,1096.07 1392.7,1093.88 1393.7,1091.67 1394.7,1089.46 1395.7,1087.23 1396.7,1085.00 1397.7,1082.75 1398.7,1080.49 1399.7,1078.22 1400.7,1075.94 1401.7,1073.65 1402.7,1071.35 1403.7,1069.04 1404.7,1066.71 1405.7,1064.38 1406.7,1062.04 1407.7,1059.68 1408.7,1057.32 1409.7,1054.94 1410.7,1052.56 1411.7,1050.16 1412.7,1047.76 1413.7,1045.35 1414.7,1042.92 1415.7,1040.49 1416.7,1038.04 1417.7,1035.59 1418.7,1033.12 1419.7,1030.65 1420.7,1028.17 1421.7,1025.67 1422.7,1023.17 1423.7,1020.66 1424.7,1018.14 1425.7,1015.61 1426.7,1013.07 1427.7,1010.52 1428.7,1007.97 1429.7,1005.40 1430.7,1002.83 1431.7,1000.24 1432.7,997.65 1433.7,995.05 1434.7,992.44 1435.7,989.82 1436.7,987.20 1437.7,984.56 1438.7,981.92 1439.7,979.27 1440.7,976.61 1441.7,973.95 1442.7,971.27 1443.7,968.59 1444.7,965.90 1445.7,963.20 1446.7,960.50 1447.7,957.79 1448.7,955.07 1449.7,952.34 1450.7,949.61 1451.7,946.87 1452.7,944.12 1453.7,941.36 1454.7,938.60 1455.7,935.83 1456.7,933.06 1457.7,930.27 1458.7,927.49 1459.7,924.69 1460.7,921.89 1461.7,919.08 1462.7,916.27 1463.7,913.45 1464.7,910.63 1465.7,907.80 1466.7,904.96 1467.7,902.12 1468.7,899.27 1469.7,896.42 1470.7,893.56 1471.7,890.69 1472.7,887.83 1473.7,884.95 1474.7,882.07 1475.7,879.19 1476.7,876.30 1477.7,873.41 1478.7,870.51 1479.7,867.61 1480.7,864.70 1481.7,861.79 1482.7,858.88 1483.7,855.96 1484.7,853.03 1485.7,850.11 1486.7,847.18 1487.7,844.24 1488.7,841.31 1489.7,838.36 1490.7,835.42 1491.7,832.47 1492.7,829.52 1493.7,826.57 1494.7,823.61 1495.7,820.65 1496.7,817.69 1497.7,814.72 1498.7,811.76 1499.7,808.78 1500.7,805.81 1501.7,802.84 1502.7,799.86 1503.7,796.88 1504.7,793.90 1505.7,790.92 1506.7,787.93 1507.7,784.95 1508.7,781.96 1509.7,778.97 1510.7,775.98 1511.7,772.99 1512.7,770.00 1513.7,767.00 1514.7,764.01 1515.7,761.01 1516.7,758.02 1517.7,755.02 1518.7,752.02 1519.7,749.02 1520.7,746.02 1521.7,743.03 1522.7,740.03 1523.7,737.03 1524.7,734.03 1525.7,731.03 1526.7,728.03 1527.7,725.04 1528.7,722.04 1529.7,719.04 1530.7,716.05 1531.7,713.05 1532.7,710.06 1533.7,707.06 1534.7,704.07 1535.7,701.08 1536.7,698.09 1537.7,695.10 1538.7,692.11 1539.7,689.13 1540.7,686.14 1541.7,683.16 1542.7,680.18 1543.7,677.20 1544.7,674.23 1545.7,671.25 1546.7,668.28 1547.7,665.31 1548.7,662.34 1549.7,659.38 1550.7,656.41 1551.7,653.45 1552.7,650.50 1553.7,647.54 1554.7,644.59 1555.7,641.64 1556.7,638.70 1557.7,635.76 1558.7,632.82 1559.7,629.88 1560.7,626.95 1561.7,624.02 1562.7,621.10 1563.7,618.18 1564.7,615.26 1565.7,612.35 1566.7,609.44 1567.7,606.54 1568.7,603.64 1569.7,600.74 1570.7,597.85 1571.7,594.96 1572.7,592.08 1573.7,589.20 1574.7,586.33 1575.7,583.46 1576.7,580.59 1577.7,577.74 1578.7,574.88 1579.7,572.03 1580.7,569.19 1581.7,566.35 1582.7,563.52 1583.7,560.69 1584.7,557.87 1585.7,555.05 1586.7,552.24 1587.7,549.44 1588.7,546.64 1589.7,543.84 1590.7,541.06 1591.7,538.28 1592.7,535.50 1593.7,532.73 1594.7,529.97 1595.7,527.21 1596.7,524.46 1597.7,521.72 1598.7,518.98 1599.7,516.25 1600.7,513.53 1601.7,510.81 1602.7,508.10 1603.7,505.40 1604.7,502.70 1605.7,500.01 1606.7,497.33 1607.7,494.66 1608.7,491.99 1609.7,489.33 1610.7,486.68 1611.7,484.03 1612.7,481.39 1613.7,478.76 1614.7,476.14 1615.7,473.52 1616.7,470.92 1617.7,468.32 1618.7,465.73 1619.7,463.14 1620.7,460.57 1621.7,458.00 1622.7,455.44 1623.7,452.89 1624.7,450.34 1625.7,447.81 1626.7,445.28 1627.7,442.76 1628.7,440.25 1629.7,437.75 1630.7,435.26 1631.7,432.77 1632.7,430.30 1633.7,427.83 1634.7,425.37 1635.7,422.92 1636.7,420.48 1637.7,418.05 1638.7,415.62 1639.7,413.21 1640.7,410.80 1641.7,408.41 1642.7,406.02 1643.7,403.64 1644.7,401.27 1645.7,398.91 1646.7,396.56 1647.7,394.22 1648.7,391.89 1649.7,389.57 1650.7,387.25 1651.7,384.95 1652.7,382.66 1653.7,380.37 1654.7,378.10 1655.7,375.83 1656.7,373.57 1657.7,371.33 1658.7,369.09 1659.7,366.87 1660.7,364.65 1661.7,362.44 1662.7,360.24 1663.7,358.06 1664.7,355.88 1665.7,353.71 1666.7,351.55 1667.7,349.41 1668.7,347.27 1669.7,345.14 1670.7,343.02 1671.7,340.92 1672.7,338.82 1673.7,336.73 1674.7,334.65 1675.7,332.59 1676.7,330.53 1677.7,328.48 1678.7,326.45 1679.7,324.42 1680.7,322.41 1681.7,320.40 1682.7,318.41 1683.7,316.42 1684.7,314.45 1685.7,312.48 1686.7,310.53 1687.7,308.59 1688.7,306.65 1689.7,304.73 1690.7,302.82 1691.7,300.92 1692.7,299.03 1693.7,297.15 1694.7,295.28 1695.7,293.42 1696.7,291.57 1697.7,289.73 1698.7,287.90 1699.7,286.09 1700.7,284.28 1701.7,282.48 1702.7,280.70 1703.7,278.92 1704.7,277.16 1705.7,275.40 1706.7,273.66 1707.7,271.93 1708.7,270.21 1709.7,268.49 1710.7,266.79 1711.7,265.10 1712.7,263.42 1713.7,261.75 1714.7,260.09 1715.7,258.45 1716.7,256.81 1717.7,255.18 1718.7,253.56 1719.7,251.96 1720.7,250.36 1721.7,248.78 1722.7,247.20 1723.7,245.64 1724.7,244.09 1725.7,242.54 1726.7,241.01 1727.7,239.49 1728.7,237.98 1729.7,236.48 1730.7,234.99 1731.7,233.51 1732.7,232.04 1733.7,230.58 1734.7,229.13 1735.7,227.69 1736.7,226.26 1737.7,224.85 1738.7,223.44 1739.7,222.04 1740.7,220.66 1741.7,219.28 1742.7,217.91 1743.7,216.56 1744.7,215.21 1745.7,213.88 1746.7,212.55 1747.7,211.24 1748.7,209.93 1749.7,208.64 1750.7,207.35 1751.7,206.08 1752.7,204.81 1753.7,203.56 1754.7,202.32 1755.7,201.08 1756.7,199.86 1757.7,198.64 1758.7,197.44 1759.7,196.24 1760.7,195.06 1761.7,193.88 1762.7,192.72 1763.7,191.56 1764.7,190.42 1765.7,189.28 1766.7,188.16 1767.7,187.04 1768.7,185.93 1769.7,184.84 1770.7,183.75 1771.7,182.67 1772.7,181.60 1773.7,180.54 1774.7,179.49 1775.7,178.45 1776.7,177.42 1777.7,176.40 1778.7,175.39 1779.7,174.38 1780.7,173.39 1781.7,172.41 1782.7,171.43 1783.7,170.46 1784.7,169.51 1785.7,168.56 1786.7,167.62 1787.7,166.69 1788.7,165.77 1789.7,164.85 1790.7,163.95 1791.7,163.06 1792.7,162.17 1793.7,161.29 1794.7,160.42 1795.7,159.56 1796.7,158.71 1797.7,157.87 1798.7,157.03 1799.7,156.21 1800.7,155.39 1801.7,154.58 1802.7,153.78 1803.7,152.99 1804.7,152.20 1805.7,151.43 1806.7,150.66 1807.7,149.90 1808.7,149.15 1809.7,148.40 1810.7,147.67 1811.7,146.94 1812.7,146.22 1813.7,145.51 1814.7,144.80 1815.7,144.11 1816.7,143.42 1817.7,142.74 1818.7,142.06 1819.7,141.40 1820.7,140.74 1821.7,140.09 1822.7,139.44 1823.7,138.81 1824.7,138.18 1825.7,137.55 1826.7,136.94 1827.7,136.33 1828.7,135.73 1829.7,135.14 1830.7,134.55 1831.7,133.97 1832.7,133.40 1833.7,132.84 1834.7,132.28 1835.7,131.73 1836.7,131.18 1837.7,130.64 1838.7,130.11 1839.7,129.59 1840.7,129.07 1841.7,128.55 1842.7,128.05 1843.7,127.55 1844.7,127.06 1845.7,126.57 1846.7,126.09 1847.7,125.61 1848.7,125.15 1849.7,124.68 1850.7,124.23 1851.7,123.78 1852.7,123.33 1853.7,122.90 1854.7,122.46 1855.7,122.04 1856.7,121.62 1857.7,121.20 1858.7,120.79 1859.7,120.39 1860.7,119.99 1861.7,119.60 1862.7,119.21 1863.7,118.83 1864.7,118.45 1865.7,118.08 1866.7,117.71 1867.7,117.35 1868.7,116.99 1869.7,116.64 1870.7,116.30 1871.7,115.96 1872.7,115.62 1873.7,115.29 1874.7,114.96 1875.7,114.64 1876.7,114.32 1877.7,114.01 1878.7,113.70 1879.7,113.40 1880.7,113.10 1881.7,112.81 1882.7,112.52 1883.7,112.24 1884.7,111.95 1885.7,111.68 1886.7,111.41 1887.7,111.14 1888.7,110.88 1889.7,110.62 1890.7,110.36 1891.7,110.11 1892.7,109.86 1893.7,109.62 1894.7,109.38 1895.7,109.14 1896.7,108.91 1897.7,108.68 1898.7,108.46 1899.7,108.24 1900.7,108.02 1901.7,107.81 1902.7,107.60 1903.7,107.39 1904.7,107.19 1905.7,106.99 1906.7,106.79 1907.7,106.60 1908.7,106.41 1909.7,106.23 1910.7,106.04 1911.7,105.86 1912.7,105.69 1913.7,105.51 1914.7,105.34 1915.7,105.18 1916.7,105.01 1917.7,104.85 1918.7,104.69 1919.7,104.53 1920.7,104.38 1921.7,104.23 1922.7,104.08 1923.7,103.94 1924.7,103.80 1925.7,103.66 1926.7,103.52 1927.7,103.39 1928.7,103.25 1929.7,103.12 1930.7,103.00 1931.7,102.87 1932.7,102.75 1933.7,102.63 1934.7,102.51 1935.7,102.40 1936.7,102.28 1937.7,102.17 1938.7,102.06 1939.7,101.96 1940.7,101.85 1941.7,101.75 1942.7,101.65 1943.7,101.55 1944.7,101.46 1945.7,101.36 1946.7,101.27 1947.7,101.18 1948.7,101.09 1949.7,101.00 1950.7,100.92 1951.7,100.83 1952.7,100.75 1953.7,100.67 1954.7,100.59 1955.7,100.52 1956.7,100.44 1957.7,100.37 1958.7,100.30 1959.7,100.23 1960.7,100.16 1961.7,100.09 1962.7,100.03 1963.7,99.96 1964.7,99.90 1965.7,99.84 1966.7,99.78 1967.7,99.72 1968.7,99.66 1969.7,99.60 1970.7,99.55 1971.7,99.49 1972.7,99.44 1973.7,99.39 1974.7,99.34 1975.7,99.29 1976.7,99.24 1977.7,99.20 1978.7,99.15 1979.7,99.11 1980.7,99.06 1981.7,99.02 1982.7,98.98 1983.7,98.94 1984.7,98.90 1985.7,98.86 1986.7,98.82 1987.7,98.78 1988.7,98.75 1989.7,98.71 1990.7,98.68 1991.7,98.65 1992.7,98.61 1993.7,98.58 1994.7,98.55 1995.7,98.52 1996.7,98.49 1997.7,98.46 1998.7,98.43 1999.7,98.41 2000.7,98.38 2001.7,98.35 2002.7,98.33 2003.7,98.30 2004.7,98.28 2005.7,98.26 2006.7,98.23 2007.7,98.21 2008.7,98.19 2009.7,98.17 2010.7,98.15 2011.7,98.13 2012.7,98.11 2013.7,98.09 2014.7,98.07 2015.7,98.06 2016.7,98.04 2017.7,98.02 2018.7,98.01 2019.7,97.99 2020.7,97.97 2021.7,97.96 2022.7,97.94 2023.7,97.93 2024.7,97.92 2025.7,97.90 2026.7,97.89 2027.7,97.88 2028.7,97.87 2029.7,97.85 2030.7,97.84 2031.7,97.83 2032.7,97.82 2033.7,97.81 2034.7,97.80 2035.7,97.79 2036.7,97.78 2037.7,97.77 2038.7,97.76 2039.7,97.75 2040.7,97.74 2041.7,97.74 2042.7,97.73 2043.7,97.72 2044.7,97.71 2045.7,97.70 2046.7,97.70 2047.7,97.69 2048.7,97.68 2049.7,97.68 2050.7,97.67 2051.7,97.67 2052.7,97.66 2053.7,97.65 2054.7,97.65 2055.7,97.64 2056.7,97.64 2057.7,97.63 2058.7,97.63 2059.7,97.62 2060.7,97.62 2061.7,97.61 2062.7,97.61 2063.7,97.61 2064.7,97.60 2065.7,97.60 2066.7,97.59 2067.7,97.59 2068.7,97.59 2069.7,97.58 2070.7,97.58 2071.7,97.58 2072.7,97.58 2073.7,97.57 2074.7,97.57 2075.7,97.57 2076.7,97.56 2077.7,97.56 2078.7,97.56 2079.7,97.56 2080.7,97.55 2081.7,97.55 2082.7,97.55 2083.7,97.55 2084.7,97.55 2085.7,97.54 2086.7,97.54 2087.7,97.54 2088.7,97.54 2089.7,97.54 2090.7,97.54 2091.7,97.53 2092.7,97.53 2093.7,97.53 2094.7,97.53 2095.7,97.53 2096.7,97.53 2097.7,97.53 2098.7,97.53 2099.7,97.52 2100.7,97.52 2101.7,97.52 2102.7,97.52 2103.7,97.52" fill="none" stroke="#0A0AA8" stroke-width="6" stroke-linejoin="round" stroke-linecap="round"/>
<rect x="283.5" y="31.5" width="10.5" height="1359.9" fill="#000"/>
<rect x="283.5" y="1382.3" width="1850.5" height="9.100000000000136" fill="#000"/>
<line x1="385" y1="177.0" x2="535" y2="177.0" stroke="#00DEDA" stroke-width="8" stroke-linecap="round"/>
<line x1="385" y1="260.8" x2="535" y2="260.8" stroke="#D42228" stroke-width="6" stroke-linecap="round"/>
<line x1="385" y1="342.8" x2="535" y2="342.8" stroke="#0A0AA8" stroke-width="6" stroke-linecap="round"/>
<text clip-path="url(#c0)" stroke="#fff" stroke-width="0.9" x="163" y="117.7" font-size="65"><tspan dx="2.13">1</tspan><tspan dx="-2.13">.0</tspan></text>
<text stroke="#fff" stroke-width="0.9" x="162.4" y="361.7" font-size="65">0.8</text>
<text stroke="#fff" stroke-width="0.9" x="168.2" y="605" font-size="65">0.6</text>
<text stroke="#fff" stroke-width="0.9" x="168.2" y="834" font-size="65">0.4</text>
<text stroke="#fff" stroke-width="0.9" x="165.3" y="1085" font-size="65">0.2</text>
<text stroke="#fff" stroke-width="0.9" x="164.1" y="1331.4" font-size="65">0.0</text>
<text clip-path="url(#c6)" stroke="#fff" stroke-width="0.9" x="812.3" y="1467.7" font-size="65">0.0<tspan dx="2.13">1</tspan></text>
<text clip-path="url(#c7)" stroke="#fff" stroke-width="0.9" x="1448.6" y="1464.2" font-size="65">0.<tspan dx="2.13">1</tspan></text>
<text clip-path="url(#c8)" stroke="#fff" stroke-width="0.9" x="2089" y="1463" font-size="65">1</text>
<text clip-path="url(#c9)" stroke="#fff" stroke-width="0.6" x="553.4" y="199.8" font-size="67.5">L<tspan stroke="none" font-family="NanumGothic, 'Liberation Sans', sans-serif" font-size="70" textLength="37.5" lengthAdjust="spacingAndGlyphs" dx="2.2">=</tspan><tspan dx="1.9">1</tspan><tspan dx="-0.8"> mm</tspan></text>
<text stroke="#fff" stroke-width="0.6" x="553.4" y="283.2" font-size="67.5"><tspan font-style="italic">L</tspan><tspan stroke="none" font-family="NanumGothic, 'Liberation Sans', sans-serif" font-size="70" textLength="37.5" lengthAdjust="spacingAndGlyphs" dx="2.2">=</tspan><tspan dx="-0.3">2 mm</tspan></text>
<text stroke="#fff" stroke-width="0.6" x="553.4" y="364.8" font-size="67.5"><tspan font-style="italic">L</tspan><tspan stroke="none" font-family="NanumGothic, 'Liberation Sans', sans-serif" font-size="70" textLength="37.5" lengthAdjust="spacingAndGlyphs" dx="2.2">=</tspan><tspan dx="-0.3">5 mm</tspan></text>
<text clip-path="url(#c12)" stroke="#fff" stroke-width="0.6" x="1648" y="554.7" font-size="72"><tspan font-style="italic">D</tspan><tspan stroke="none" font-family="NanumGothic, 'Liberation Sans', sans-serif" font-size="75" textLength="41.7" lengthAdjust="spacingAndGlyphs" dx="-0.66">=</tspan><tspan dx="1.0">0.</tspan><tspan dx="3">1</tspan><tspan dx="-1.5">9</tspan><tspan dx="5.2"> cm</tspan><tspan font-size="42" dx="0.3" dy="-38.6">2</tspan><tspan dx="1.5" dy="38.6">/</tspan><tspan dx="2.4">s</tspan></text>
<text clip-path="url(#c13)" stroke="#fff" stroke-width="0.8" x="1561.5" y="1293.3" font-size="85">t<tspan font-size="49" dy="34">1/2</tspan></text>
<text stroke="#fff" stroke-width="1.0" x="1133.7" y="1617.5" font-size="85">t (s<tspan dx="4">)</tspan></text>
<text stroke="#fff" stroke-width="1.2" transform="translate(87.5,1005) rotate(-90)" font-size="85"><tspan font-style="italic" font-size="71" x="3">Δ</tspan><tspan font-style="italic" x="49.7">T(L,t)</tspan><tspan x="276.8">(a.u.<tspan dx="2.5">)</tspan></tspan></text>
</svg>
</body></html>
